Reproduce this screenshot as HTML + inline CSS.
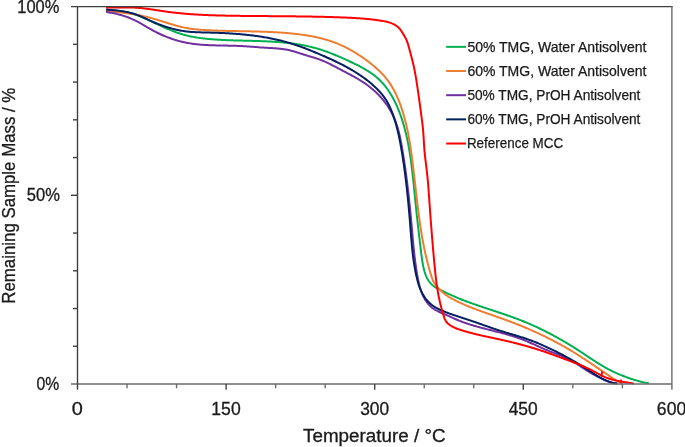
<!DOCTYPE html>
<html><head><meta charset="utf-8"><style>
html,body{margin:0;padding:0;background:#fff;}
body{width:685px;height:447px;overflow:hidden;}
svg{display:block;font-family:"Liberation Sans", sans-serif;will-change:transform;}
</style></head><body>
<svg width="685" height="447" viewBox="0 0 685 447">
<rect width="685" height="447" fill="#fff"/>
<path d="M107.00 9.00 L107.00 9.90 L107.61 9.95 L108.22 10.00 L108.82 10.04 L109.43 10.09 L110.05 10.14 L110.66 10.19 L111.27 10.25 L111.89 10.30 L112.50 10.36 L113.11 10.41 L113.73 10.47 L114.35 10.53 L114.96 10.60 L115.58 10.66 L116.20 10.73 L116.81 10.80 L117.43 10.87 L118.05 10.94 L118.67 11.02 L119.28 11.10 L119.90 11.18 L120.52 11.26 L121.13 11.35 L121.75 11.44 L122.37 11.54 L122.98 11.63 L123.59 11.73 L124.21 11.84 L124.82 11.94 L125.43 12.06 L126.04 12.17 L126.65 12.29 L127.26 12.41 L127.87 12.54 L128.47 12.67 L129.07 12.81 L129.68 12.95 L130.28 13.09 L130.88 13.24 L131.48 13.40 L132.07 13.56 L132.67 13.72 L133.26 13.89 L133.85 14.07 L134.44 14.25 L135.02 14.43 L135.61 14.63 L136.19 14.82 L136.77 15.02 L137.34 15.23 L137.92 15.44 L138.49 15.66 L139.07 15.88 L139.64 16.10 L140.21 16.33 L140.77 16.56 L141.34 16.80 L141.91 17.04 L142.47 17.28 L143.03 17.53 L143.59 17.77 L144.16 18.02 L144.72 18.28 L145.28 18.53 L145.84 18.79 L146.40 19.05 L146.95 19.31 L147.51 19.57 L148.07 19.83 L148.63 20.10 L149.19 20.36 L149.75 20.63 L150.30 20.90 L150.86 21.16 L151.42 21.43 L151.98 21.70 L152.54 21.96 L153.10 22.23 L153.66 22.50 L154.22 22.76 L154.78 23.03 L155.35 23.30 L155.91 23.56 L156.47 23.83 L157.03 24.09 L157.59 24.36 L158.16 24.62 L158.72 24.88 L159.29 25.15 L159.85 25.41 L160.42 25.67 L160.98 25.93 L161.55 26.19 L162.11 26.45 L162.68 26.71 L163.25 26.96 L163.82 27.22 L164.38 27.47 L164.95 27.72 L165.52 27.97 L166.09 28.22 L166.66 28.47 L167.23 28.71 L167.81 28.96 L168.38 29.20 L168.95 29.44 L169.52 29.68 L170.10 29.91 L170.67 30.15 L171.25 30.38 L171.82 30.61 L172.40 30.84 L172.98 31.06 L173.55 31.29 L174.13 31.51 L174.71 31.72 L175.29 31.94 L175.87 32.15 L176.45 32.36 L177.04 32.57 L177.62 32.77 L178.20 32.97 L178.79 33.17 L179.37 33.37 L179.96 33.56 L180.54 33.75 L181.13 33.94 L181.72 34.12 L182.31 34.30 L182.90 34.47 L183.49 34.64 L184.08 34.81 L184.67 34.98 L185.26 35.14 L185.86 35.29 L186.45 35.45 L187.05 35.60 L187.65 35.74 L188.24 35.88 L188.84 36.02 L189.44 36.16 L190.04 36.29 L190.64 36.42 L191.24 36.54 L191.84 36.66 L192.45 36.78 L193.05 36.89 L193.65 37.00 L194.26 37.11 L194.86 37.22 L195.47 37.32 L196.08 37.42 L196.68 37.52 L197.29 37.61 L197.90 37.70 L198.51 37.79 L199.12 37.88 L199.73 37.97 L200.34 38.05 L200.95 38.13 L201.56 38.20 L202.17 38.28 L202.78 38.35 L203.39 38.43 L204.00 38.49 L204.62 38.56 L205.23 38.63 L205.84 38.69 L206.46 38.76 L207.07 38.82 L207.68 38.88 L208.30 38.93 L208.91 38.99 L209.53 39.05 L210.14 39.10 L210.76 39.15 L211.37 39.20 L211.99 39.25 L212.60 39.30 L213.22 39.35 L213.84 39.40 L214.45 39.44 L215.07 39.49 L215.68 39.53 L216.30 39.57 L216.92 39.61 L217.53 39.65 L218.15 39.69 L218.77 39.73 L219.39 39.76 L220.00 39.80 L220.62 39.83 L221.24 39.87 L221.86 39.90 L222.47 39.93 L223.09 39.96 L223.71 39.99 L224.33 40.02 L224.95 40.05 L225.57 40.08 L226.18 40.11 L226.80 40.13 L227.42 40.16 L228.04 40.18 L228.66 40.21 L229.28 40.23 L229.90 40.26 L230.52 40.28 L231.14 40.30 L231.76 40.32 L232.38 40.34 L233.00 40.36 L233.62 40.38 L234.24 40.40 L234.86 40.42 L235.47 40.44 L236.09 40.46 L236.71 40.48 L237.33 40.49 L237.95 40.51 L238.57 40.53 L239.19 40.54 L239.81 40.56 L240.43 40.58 L241.05 40.59 L241.67 40.61 L242.29 40.62 L242.91 40.64 L243.54 40.66 L244.16 40.67 L244.78 40.69 L245.40 40.70 L246.02 40.72 L246.64 40.73 L247.26 40.75 L247.88 40.76 L248.50 40.78 L249.12 40.79 L249.74 40.81 L250.36 40.83 L250.98 40.84 L251.59 40.86 L252.21 40.87 L252.83 40.89 L253.45 40.91 L254.07 40.92 L254.69 40.94 L255.31 40.96 L255.93 40.98 L256.55 41.00 L257.17 41.01 L257.79 41.03 L258.41 41.05 L259.03 41.07 L259.65 41.09 L260.27 41.12 L260.88 41.14 L261.50 41.16 L262.12 41.18 L262.74 41.21 L263.36 41.23 L263.98 41.26 L264.59 41.28 L265.21 41.31 L265.83 41.33 L266.45 41.36 L267.07 41.39 L267.68 41.42 L268.30 41.45 L268.92 41.48 L269.53 41.51 L270.15 41.54 L270.77 41.58 L271.38 41.61 L272.00 41.65 L272.62 41.68 L273.23 41.72 L273.85 41.76 L274.46 41.80 L275.08 41.84 L275.70 41.88 L276.31 41.92 L276.93 41.97 L277.54 42.01 L278.15 42.06 L278.77 42.10 L279.38 42.15 L280.00 42.20 L280.61 42.25 L281.22 42.30 L281.84 42.36 L282.45 42.41 L283.06 42.47 L283.68 42.53 L284.29 42.59 L284.90 42.65 L285.51 42.71 L286.12 42.77 L286.74 42.84 L287.35 42.90 L287.96 42.97 L288.57 43.04 L289.18 43.11 L289.79 43.18 L290.40 43.26 L291.01 43.33 L291.62 43.41 L292.23 43.49 L292.83 43.57 L293.44 43.66 L294.05 43.74 L294.66 43.83 L295.27 43.91 L295.87 44.00 L296.48 44.10 L297.09 44.19 L297.69 44.29 L298.30 44.38 L298.91 44.48 L299.51 44.58 L300.12 44.69 L300.72 44.79 L301.32 44.90 L301.93 45.01 L302.53 45.12 L303.14 45.24 L303.74 45.35 L304.34 45.47 L304.94 45.59 L305.55 45.71 L306.15 45.84 L306.75 45.97 L307.35 46.09 L307.95 46.23 L308.55 46.36 L309.15 46.50 L309.75 46.63 L310.35 46.78 L310.95 46.92 L311.54 47.07 L312.14 47.21 L312.74 47.36 L313.34 47.52 L313.93 47.67 L314.53 47.83 L315.12 47.99 L315.72 48.16 L316.31 48.32 L316.91 48.49 L317.50 48.66 L318.10 48.84 L318.69 49.01 L319.28 49.19 L319.87 49.38 L320.47 49.56 L321.06 49.75 L321.65 49.94 L322.24 50.13 L322.83 50.33 L323.42 50.53 L324.01 50.73 L324.60 50.93 L325.18 51.14 L325.77 51.35 L326.36 51.56 L326.94 51.77 L327.53 51.99 L328.11 52.21 L328.70 52.43 L329.28 52.65 L329.87 52.88 L330.45 53.10 L331.03 53.33 L331.61 53.56 L332.19 53.79 L332.77 54.02 L333.35 54.26 L333.93 54.49 L334.51 54.73 L335.08 54.97 L335.66 55.21 L336.23 55.45 L336.81 55.70 L337.38 55.94 L337.95 56.19 L338.53 56.43 L339.10 56.68 L339.67 56.93 L340.24 57.18 L340.81 57.42 L341.37 57.68 L341.94 57.93 L342.51 58.18 L343.07 58.43 L343.63 58.68 L344.20 58.94 L344.76 59.19 L345.32 59.44 L345.88 59.70 L346.44 59.95 L347.00 60.20 L347.55 60.46 L348.11 60.71 L348.66 60.96 L349.22 61.22 L349.77 61.47 L350.32 61.73 L350.87 61.99 L351.42 62.24 L351.97 62.50 L352.52 62.76 L353.07 63.02 L353.62 63.28 L354.17 63.54 L354.72 63.81 L355.27 64.08 L355.82 64.34 L356.36 64.61 L356.91 64.89 L357.46 65.16 L358.01 65.44 L358.56 65.72 L359.11 66.00 L359.65 66.29 L360.20 66.58 L360.75 66.87 L361.29 67.16 L361.84 67.45 L362.38 67.75 L362.93 68.05 L363.47 68.36 L364.01 68.66 L364.55 68.97 L365.09 69.29 L365.62 69.60 L366.16 69.92 L366.69 70.25 L367.22 70.57 L367.75 70.90 L368.28 71.23 L368.80 71.57 L369.33 71.91 L369.85 72.25 L370.37 72.60 L370.88 72.95 L371.39 73.30 L371.90 73.66 L372.41 74.02 L372.91 74.38 L373.41 74.75 L373.91 75.13 L374.40 75.50 L374.89 75.88 L375.37 76.27 L375.86 76.66 L376.33 77.05 L376.81 77.45 L377.28 77.85 L377.74 78.25 L378.20 78.66 L378.66 79.08 L379.11 79.50 L379.56 79.92 L380.00 80.35 L380.44 80.78 L380.87 81.22 L381.30 81.66 L381.72 82.11 L382.14 82.56 L382.55 83.01 L382.96 83.47 L383.37 83.93 L383.77 84.40 L384.16 84.87 L384.56 85.34 L384.94 85.82 L385.33 86.30 L385.70 86.79 L386.08 87.27 L386.45 87.76 L386.82 88.26 L387.18 88.76 L387.54 89.26 L387.89 89.76 L388.24 90.27 L388.59 90.78 L388.93 91.29 L389.27 91.81 L389.60 92.33 L389.93 92.85 L390.26 93.37 L390.58 93.90 L390.90 94.43 L391.22 94.96 L391.53 95.49 L391.84 96.03 L392.15 96.56 L392.45 97.10 L392.75 97.64 L393.04 98.19 L393.34 98.73 L393.62 99.28 L393.91 99.83 L394.19 100.38 L394.47 100.93 L394.75 101.48 L395.02 102.04 L395.29 102.59 L395.56 103.15 L395.83 103.71 L396.09 104.27 L396.35 104.83 L396.60 105.39 L396.85 105.96 L397.10 106.52 L397.35 107.09 L397.60 107.66 L397.84 108.23 L398.08 108.80 L398.31 109.37 L398.54 109.94 L398.77 110.52 L399.00 111.09 L399.23 111.67 L399.45 112.25 L399.67 112.83 L399.89 113.41 L400.10 113.99 L400.32 114.57 L400.52 115.15 L400.73 115.73 L400.94 116.32 L401.14 116.90 L401.34 117.49 L401.54 118.07 L401.73 118.66 L401.93 119.25 L402.12 119.84 L402.31 120.43 L402.49 121.02 L402.68 121.61 L402.86 122.20 L403.04 122.79 L403.22 123.39 L403.39 123.98 L403.56 124.58 L403.74 125.17 L403.90 125.77 L404.07 126.36 L404.24 126.96 L404.40 127.55 L404.56 128.15 L404.72 128.75 L404.88 129.35 L405.03 129.95 L405.19 130.54 L405.34 131.14 L405.49 131.74 L405.64 132.34 L405.79 132.94 L405.93 133.54 L406.07 134.14 L406.22 134.74 L406.35 135.35 L406.49 135.95 L406.63 136.55 L406.76 137.15 L406.90 137.75 L407.03 138.36 L407.16 138.96 L407.29 139.56 L407.41 140.17 L407.54 140.77 L407.66 141.37 L407.79 141.98 L407.91 142.58 L408.03 143.19 L408.14 143.79 L408.26 144.40 L408.38 145.00 L408.49 145.61 L408.60 146.22 L408.71 146.82 L408.82 147.43 L408.93 148.04 L409.04 148.64 L409.14 149.25 L409.25 149.86 L409.35 150.47 L409.45 151.07 L409.55 151.68 L409.65 152.29 L409.75 152.90 L409.85 153.51 L409.95 154.12 L410.04 154.73 L410.14 155.34 L410.23 155.95 L410.32 156.56 L410.41 157.17 L410.50 157.78 L410.59 158.39 L410.68 159.00 L410.76 159.61 L410.85 160.22 L410.93 160.83 L411.02 161.44 L411.10 162.05 L411.18 162.67 L411.26 163.28 L411.34 163.89 L411.42 164.50 L411.50 165.11 L411.58 165.73 L411.66 166.34 L411.74 166.95 L411.81 167.56 L411.89 168.18 L411.96 168.79 L412.03 169.40 L412.11 170.02 L412.18 170.63 L412.25 171.24 L412.32 171.86 L412.39 172.47 L412.46 173.08 L412.53 173.70 L412.60 174.31 L412.67 174.93 L412.74 175.54 L412.80 176.16 L412.87 176.77 L412.94 177.38 L413.00 178.00 L413.07 178.61 L413.13 179.23 L413.20 179.84 L413.26 180.46 L413.33 181.07 L413.39 181.69 L413.45 182.30 L413.52 182.92 L413.58 183.53 L413.64 184.15 L413.70 184.76 L413.77 185.38 L413.83 185.99 L413.89 186.61 L413.95 187.23 L414.01 187.84 L414.07 188.46 L414.13 189.07 L414.20 189.69 L414.26 190.30 L414.32 190.92 L414.38 191.53 L414.44 192.15 L414.50 192.77 L414.56 193.38 L414.62 194.00 L414.68 194.61 L414.74 195.23 L414.80 195.84 L414.87 196.46 L414.93 197.07 L414.99 197.69 L415.05 198.30 L415.11 198.92 L415.17 199.54 L415.24 200.15 L415.30 200.77 L415.36 201.38 L415.42 202.00 L415.49 202.61 L415.55 203.23 L415.61 203.84 L415.68 204.46 L415.74 205.07 L415.81 205.69 L415.87 206.30 L415.94 206.92 L416.00 207.53 L416.06 208.15 L416.13 208.76 L416.20 209.38 L416.26 209.99 L416.33 210.60 L416.39 211.22 L416.46 211.83 L416.52 212.45 L416.59 213.06 L416.66 213.68 L416.72 214.29 L416.79 214.90 L416.86 215.52 L416.93 216.13 L416.99 216.75 L417.06 217.36 L417.13 217.98 L417.20 218.59 L417.27 219.20 L417.33 219.82 L417.40 220.43 L417.47 221.04 L417.54 221.66 L417.61 222.27 L417.68 222.89 L417.75 223.50 L417.82 224.11 L417.89 224.73 L417.96 225.34 L418.02 225.95 L418.09 226.57 L418.16 227.18 L418.23 227.79 L418.31 228.40 L418.38 229.02 L418.45 229.63 L418.52 230.24 L418.59 230.86 L418.66 231.47 L418.73 232.08 L418.80 232.69 L418.87 233.31 L418.94 233.92 L419.01 234.53 L419.08 235.14 L419.16 235.76 L419.23 236.37 L419.30 236.98 L419.37 237.59 L419.44 238.21 L419.51 238.82 L419.59 239.43 L419.66 240.04 L419.73 240.65 L419.80 241.26 L419.88 241.88 L419.95 242.49 L420.02 243.10 L420.09 243.71 L420.17 244.32 L420.24 244.93 L420.31 245.55 L420.38 246.16 L420.46 246.77 L420.53 247.38 L420.60 247.99 L420.67 248.60 L420.75 249.21 L420.82 249.82 L420.89 250.43 L420.97 251.04 L421.04 251.65 L421.11 252.26 L421.19 252.88 L421.26 253.49 L421.34 254.10 L421.42 254.71 L421.49 255.32 L421.57 255.93 L421.66 256.54 L421.74 257.15 L421.82 257.76 L421.91 258.37 L422.00 258.98 L422.09 259.60 L422.18 260.21 L422.27 260.82 L422.37 261.43 L422.47 262.04 L422.57 262.66 L422.68 263.27 L422.79 263.88 L422.90 264.50 L423.01 265.11 L423.13 265.72 L423.26 266.34 L423.38 266.95 L423.52 267.56 L423.65 268.18 L423.79 268.79 L423.94 269.40 L424.10 270.00 L424.26 270.61 L424.42 271.21 L424.60 271.81 L424.78 272.40 L424.97 273.00 L425.17 273.59 L425.37 274.17 L425.59 274.75 L425.81 275.33 L426.05 275.90 L426.29 276.46 L426.54 277.02 L426.81 277.58 L427.08 278.12 L427.37 278.66 L427.67 279.20 L427.98 279.72 L428.30 280.24 L428.63 280.75 L428.98 281.26 L429.34 281.75 L429.72 282.24 L430.11 282.71 L430.51 283.18 L430.93 283.64 L431.36 284.08 L431.80 284.52 L432.26 284.94 L432.73 285.35 L433.21 285.75 L433.70 286.13 L434.20 286.50 L434.72 286.85 L435.24 287.19 L435.76 287.51 L436.30 287.82 L436.84 288.12 L437.39 288.41 L437.93 288.69 L438.49 288.97 L439.04 289.25 L439.60 289.52 L440.15 289.80 L440.71 290.07 L441.26 290.35 L441.81 290.62 L442.37 290.90 L442.92 291.17 L443.48 291.45 L444.03 291.72 L444.59 291.99 L445.14 292.27 L445.70 292.54 L446.25 292.81 L446.81 293.08 L447.36 293.34 L447.92 293.61 L448.48 293.87 L449.04 294.14 L449.60 294.40 L450.16 294.66 L450.72 294.91 L451.28 295.17 L451.84 295.42 L452.41 295.67 L452.97 295.92 L453.54 296.17 L454.10 296.42 L454.67 296.67 L455.23 296.91 L455.80 297.15 L456.37 297.39 L456.94 297.63 L457.51 297.87 L458.08 298.10 L458.65 298.34 L459.22 298.57 L459.79 298.80 L460.36 299.03 L460.93 299.26 L461.51 299.49 L462.08 299.72 L462.66 299.94 L463.23 300.16 L463.81 300.39 L464.38 300.61 L464.96 300.83 L465.54 301.05 L466.11 301.26 L466.69 301.48 L467.27 301.70 L467.85 301.91 L468.43 302.12 L469.01 302.34 L469.59 302.55 L470.17 302.76 L470.75 302.97 L471.33 303.18 L471.91 303.39 L472.49 303.59 L473.08 303.80 L473.66 304.00 L474.24 304.21 L474.82 304.41 L475.41 304.62 L475.99 304.82 L476.58 305.02 L477.16 305.22 L477.74 305.42 L478.33 305.62 L478.91 305.82 L479.50 306.02 L480.09 306.22 L480.67 306.42 L481.26 306.61 L481.84 306.81 L482.43 307.01 L483.02 307.20 L483.60 307.40 L484.19 307.60 L484.78 307.79 L485.36 307.99 L485.95 308.18 L486.54 308.38 L487.12 308.57 L487.71 308.76 L488.30 308.96 L488.89 309.15 L489.47 309.35 L490.06 309.54 L490.65 309.73 L491.24 309.93 L491.82 310.12 L492.41 310.31 L493.00 310.51 L493.59 310.70 L494.17 310.89 L494.76 311.09 L495.35 311.28 L495.94 311.48 L496.52 311.67 L497.11 311.87 L497.70 312.06 L498.29 312.26 L498.87 312.45 L499.46 312.65 L500.05 312.84 L500.63 313.04 L501.22 313.24 L501.80 313.43 L502.39 313.63 L502.98 313.83 L503.56 314.03 L504.15 314.23 L504.73 314.43 L505.32 314.63 L505.90 314.83 L506.49 315.03 L507.07 315.24 L507.65 315.44 L508.24 315.64 L508.82 315.85 L509.40 316.05 L509.98 316.26 L510.57 316.47 L511.15 316.67 L511.73 316.88 L512.31 317.09 L512.89 317.30 L513.47 317.51 L514.05 317.73 L514.63 317.94 L515.21 318.15 L515.79 318.37 L516.37 318.59 L516.95 318.80 L517.52 319.02 L518.10 319.24 L518.68 319.46 L519.25 319.69 L519.83 319.91 L520.40 320.14 L520.98 320.36 L521.55 320.59 L522.12 320.82 L522.70 321.05 L523.27 321.28 L523.84 321.51 L524.41 321.74 L524.98 321.98 L525.55 322.21 L526.12 322.45 L526.69 322.69 L527.26 322.93 L527.83 323.17 L528.39 323.41 L528.96 323.66 L529.53 323.90 L530.09 324.15 L530.66 324.39 L531.22 324.64 L531.79 324.89 L532.35 325.14 L532.92 325.39 L533.48 325.64 L534.04 325.90 L534.60 326.15 L535.16 326.41 L535.73 326.67 L536.29 326.92 L536.85 327.18 L537.41 327.44 L537.96 327.71 L538.52 327.97 L539.08 328.23 L539.64 328.50 L540.19 328.76 L540.75 329.03 L541.30 329.30 L541.86 329.57 L542.41 329.84 L542.97 330.11 L543.52 330.39 L544.07 330.66 L544.63 330.93 L545.18 331.21 L545.73 331.49 L546.28 331.77 L546.83 332.05 L547.38 332.33 L547.93 332.61 L548.48 332.89 L549.03 333.17 L549.57 333.46 L550.12 333.74 L550.67 334.03 L551.21 334.32 L551.76 334.61 L552.31 334.90 L552.85 335.19 L553.39 335.48 L553.94 335.77 L554.48 336.07 L555.02 336.36 L555.56 336.66 L556.10 336.96 L556.65 337.25 L557.19 337.55 L557.73 337.85 L558.26 338.15 L558.80 338.46 L559.34 338.76 L559.88 339.06 L560.42 339.37 L560.95 339.67 L561.49 339.98 L562.02 340.29 L562.56 340.60 L563.09 340.91 L563.63 341.22 L564.16 341.53 L564.69 341.84 L565.22 342.16 L565.76 342.47 L566.29 342.79 L566.82 343.10 L567.35 343.42 L567.88 343.74 L568.41 344.06 L568.93 344.38 L569.46 344.70 L569.99 345.02 L570.52 345.35 L571.04 345.67 L571.57 345.99 L572.09 346.32 L572.62 346.65 L573.14 346.97 L573.66 347.30 L574.19 347.63 L574.71 347.96 L575.23 348.29 L575.75 348.62 L576.27 348.96 L576.79 349.29 L577.31 349.62 L577.83 349.96 L578.35 350.30 L578.87 350.63 L579.39 350.97 L579.90 351.31 L580.42 351.65 L580.94 351.99 L581.45 352.33 L581.97 352.67 L582.48 353.01 L583.00 353.35 L583.51 353.69 L584.03 354.03 L584.54 354.38 L585.06 354.72 L585.57 355.06 L586.09 355.40 L586.60 355.74 L587.11 356.09 L587.63 356.43 L588.14 356.77 L588.66 357.11 L589.17 357.45 L589.69 357.79 L590.20 358.13 L590.72 358.47 L591.24 358.81 L591.75 359.15 L592.27 359.49 L592.79 359.83 L593.30 360.16 L593.82 360.50 L594.34 360.83 L594.86 361.17 L595.38 361.50 L595.90 361.83 L596.42 362.16 L596.94 362.49 L597.46 362.82 L597.99 363.15 L598.51 363.48 L599.04 363.80 L599.56 364.12 L600.09 364.44 L600.62 364.76 L601.14 365.08 L601.67 365.40 L602.20 365.71 L602.74 366.03 L603.27 366.34 L603.80 366.65 L604.34 366.96 L604.87 367.26 L605.41 367.56 L605.95 367.87 L606.49 368.17 L607.03 368.46 L607.57 368.76 L608.12 369.05 L608.66 369.34 L609.21 369.63 L609.76 369.91 L610.31 370.19 L610.86 370.47 L611.41 370.75 L611.97 371.03 L612.53 371.30 L613.08 371.57 L613.64 371.84 L614.20 372.10 L614.77 372.36 L615.33 372.62 L615.89 372.88 L616.46 373.13 L617.02 373.39 L617.59 373.64 L618.16 373.88 L618.73 374.13 L619.30 374.37 L619.87 374.61 L620.45 374.85 L621.02 375.08 L621.60 375.32 L622.17 375.55 L622.75 375.77 L623.33 376.00 L623.90 376.22 L624.48 376.45 L625.06 376.67 L625.64 376.88 L626.22 377.10 L626.80 377.31 L627.38 377.52 L627.97 377.73 L628.55 377.93 L629.13 378.14 L629.71 378.34 L630.30 378.54 L630.88 378.74 L631.47 378.93 L632.05 379.12 L632.64 379.31 L633.22 379.50 L633.81 379.68 L634.40 379.87 L634.99 380.04 L635.57 380.22 L636.16 380.39 L636.76 380.56 L637.35 380.73 L637.94 380.90 L638.53 381.06 L639.13 381.22 L639.72 381.37 L640.32 381.53 L640.92 381.67 L641.52 381.82 L642.12 381.96 L642.72 382.10 L643.32 382.24 L643.92 382.37 L644.53 382.50 L645.14 382.62 L645.74 382.74 L646.35 382.86 L646.96 382.98 L647.58 383.08 L648.19 383.19 L648.80 383.29 L648.80 383.29" fill="none" stroke="#00B050" stroke-width="2.0" stroke-linejoin="round" stroke-linecap="butt"/>
<path d="M107.00 10.00 L106.99 11.03 L107.59 11.09 L108.19 11.15 L108.79 11.20 L109.39 11.26 L109.99 11.32 L110.59 11.38 L111.19 11.44 L111.79 11.50 L112.39 11.56 L112.99 11.62 L113.59 11.68 L114.19 11.74 L114.79 11.81 L115.39 11.87 L115.98 11.93 L116.58 12.00 L117.18 12.06 L117.78 12.13 L118.38 12.20 L118.98 12.27 L119.57 12.34 L120.17 12.41 L120.77 12.48 L121.37 12.55 L121.96 12.62 L122.56 12.69 L123.16 12.77 L123.76 12.84 L124.35 12.92 L124.95 13.00 L125.54 13.08 L126.14 13.16 L126.74 13.24 L127.33 13.32 L127.93 13.41 L128.52 13.49 L129.12 13.58 L129.71 13.67 L130.30 13.76 L130.90 13.85 L131.49 13.94 L132.08 14.03 L132.68 14.13 L133.27 14.23 L133.86 14.33 L134.45 14.42 L135.05 14.53 L135.64 14.63 L136.23 14.73 L136.82 14.84 L137.41 14.95 L138.00 15.06 L138.59 15.17 L139.18 15.28 L139.77 15.40 L140.36 15.52 L140.95 15.64 L141.53 15.76 L142.12 15.88 L142.71 16.01 L143.29 16.13 L143.88 16.26 L144.47 16.39 L145.05 16.53 L145.64 16.66 L146.22 16.80 L146.81 16.94 L147.39 17.08 L147.97 17.23 L148.56 17.37 L149.14 17.52 L149.72 17.67 L150.30 17.82 L150.88 17.98 L151.46 18.14 L152.04 18.30 L152.62 18.46 L153.20 18.62 L153.78 18.79 L154.36 18.96 L154.94 19.13 L155.52 19.30 L156.09 19.47 L156.67 19.64 L157.25 19.82 L157.83 19.99 L158.40 20.17 L158.98 20.35 L159.56 20.53 L160.13 20.70 L160.71 20.88 L161.28 21.06 L161.86 21.25 L162.43 21.43 L163.01 21.61 L163.59 21.79 L164.16 21.97 L164.74 22.15 L165.31 22.34 L165.89 22.52 L166.46 22.70 L167.04 22.88 L167.62 23.06 L168.19 23.24 L168.77 23.42 L169.34 23.60 L169.92 23.77 L170.50 23.95 L171.07 24.12 L171.65 24.30 L172.23 24.47 L172.81 24.64 L173.38 24.81 L173.96 24.98 L174.54 25.14 L175.12 25.31 L175.70 25.47 L176.28 25.63 L176.86 25.79 L177.44 25.95 L178.02 26.10 L178.60 26.25 L179.18 26.40 L179.77 26.55 L180.35 26.69 L180.93 26.84 L181.52 26.97 L182.10 27.11 L183.27 27.37 L184.45 27.62 L185.62 27.86 L186.80 28.08 L187.98 28.28 L189.17 28.48 L189.76 28.57 L190.35 28.66 L190.95 28.74 L191.54 28.82 L192.14 28.90 L192.73 28.98 L193.33 29.05 L193.93 29.12 L194.53 29.19 L195.12 29.26 L195.72 29.32 L196.32 29.38 L196.92 29.44 L197.52 29.50 L198.12 29.55 L198.72 29.61 L199.32 29.66 L199.92 29.70 L200.52 29.75 L201.12 29.80 L201.72 29.84 L202.32 29.88 L202.92 29.92 L203.53 29.96 L204.13 30.00 L204.73 30.03 L205.33 30.07 L205.93 30.10 L206.54 30.14 L207.14 30.17 L207.74 30.20 L208.34 30.23 L208.95 30.26 L209.55 30.29 L210.15 30.32 L210.75 30.35 L211.35 30.38 L211.96 30.40 L212.56 30.43 L213.16 30.45 L213.76 30.48 L214.36 30.50 L214.97 30.53 L215.57 30.55 L216.17 30.57 L216.77 30.59 L217.37 30.62 L217.98 30.64 L218.58 30.66 L219.18 30.68 L219.78 30.70 L220.38 30.72 L220.99 30.73 L221.59 30.75 L222.19 30.77 L222.79 30.79 L223.39 30.80 L224.00 30.82 L224.60 30.84 L225.20 30.85 L225.80 30.87 L226.40 30.88 L227.00 30.90 L227.61 30.91 L228.21 30.93 L228.81 30.94 L229.41 30.95 L230.01 30.97 L230.61 30.98 L231.22 30.99 L231.82 31.01 L232.42 31.02 L233.02 31.03 L233.62 31.04 L234.22 31.06 L234.83 31.07 L235.43 31.08 L236.03 31.09 L236.63 31.10 L237.23 31.12 L237.83 31.13 L238.43 31.14 L239.04 31.15 L239.64 31.16 L240.24 31.17 L240.84 31.18 L241.44 31.19 L242.04 31.21 L242.64 31.22 L243.25 31.23 L243.85 31.24 L244.45 31.25 L245.05 31.26 L245.65 31.28 L246.25 31.29 L246.85 31.30 L247.45 31.31 L248.06 31.32 L248.66 31.34 L249.26 31.35 L249.86 31.36 L250.46 31.37 L251.06 31.39 L251.66 31.40 L252.26 31.41 L252.86 31.43 L253.46 31.44 L254.07 31.46 L254.67 31.47 L255.27 31.49 L255.87 31.50 L256.47 31.52 L257.07 31.53 L257.67 31.55 L258.27 31.57 L258.87 31.58 L259.47 31.60 L260.07 31.62 L260.68 31.64 L261.28 31.66 L261.88 31.67 L262.48 31.69 L263.08 31.71 L263.68 31.74 L264.28 31.76 L264.88 31.78 L265.48 31.80 L266.08 31.82 L266.68 31.85 L267.28 31.87 L267.88 31.89 L268.48 31.92 L269.09 31.95 L269.69 31.97 L270.29 32.00 L270.89 32.03 L271.49 32.05 L272.09 32.08 L272.69 32.11 L273.29 32.14 L273.89 32.17 L274.49 32.21 L275.09 32.24 L275.69 32.27 L276.29 32.31 L276.89 32.34 L277.49 32.38 L278.09 32.41 L278.69 32.45 L279.29 32.49 L279.89 32.53 L280.49 32.57 L281.09 32.61 L281.69 32.65 L282.29 32.69 L282.89 32.74 L283.49 32.78 L284.09 32.83 L284.69 32.87 L285.29 32.92 L285.89 32.97 L286.49 33.02 L287.09 33.07 L287.69 33.12 L288.29 33.17 L288.89 33.22 L289.49 33.28 L290.09 33.33 L290.69 33.39 L291.29 33.45 L291.89 33.50 L292.49 33.56 L293.09 33.63 L293.69 33.69 L294.29 33.75 L294.89 33.82 L295.49 33.88 L296.09 33.95 L296.69 34.02 L297.29 34.09 L297.89 34.16 L298.49 34.23 L299.08 34.31 L299.68 34.38 L300.28 34.46 L300.88 34.54 L301.48 34.62 L302.07 34.70 L302.67 34.79 L303.27 34.87 L303.86 34.96 L304.46 35.05 L305.05 35.14 L305.65 35.23 L306.25 35.32 L306.84 35.42 L307.43 35.51 L308.03 35.61 L308.62 35.71 L309.22 35.82 L309.81 35.92 L310.40 36.03 L310.99 36.14 L311.58 36.25 L312.17 36.36 L312.76 36.47 L313.35 36.59 L313.94 36.71 L314.53 36.83 L315.12 36.95 L315.71 37.08 L316.30 37.20 L316.88 37.33 L317.47 37.46 L318.06 37.60 L318.64 37.73 L319.22 37.87 L319.81 38.01 L320.39 38.16 L320.97 38.30 L321.56 38.45 L322.14 38.60 L322.72 38.75 L323.30 38.91 L323.88 39.07 L324.45 39.23 L325.03 39.39 L325.61 39.55 L326.18 39.72 L326.76 39.89 L327.33 40.07 L327.91 40.24 L328.48 40.42 L329.05 40.60 L329.62 40.79 L330.19 40.97 L330.76 41.16 L331.33 41.35 L331.90 41.55 L332.47 41.75 L333.03 41.95 L333.60 42.15 L334.16 42.36 L334.72 42.57 L335.29 42.78 L335.85 43.00 L336.41 43.22 L336.97 43.44 L337.53 43.67 L338.08 43.90 L338.64 44.13 L339.19 44.36 L339.75 44.60 L340.30 44.84 L340.85 45.09 L341.40 45.33 L341.95 45.58 L342.50 45.84 L343.05 46.10 L343.59 46.35 L344.14 46.62 L344.68 46.88 L345.22 47.15 L345.77 47.42 L346.31 47.70 L346.84 47.97 L347.38 48.25 L347.92 48.54 L348.45 48.82 L348.99 49.11 L349.52 49.40 L350.05 49.69 L350.58 49.98 L351.10 50.28 L351.63 50.58 L352.16 50.88 L352.68 51.18 L353.20 51.49 L353.72 51.79 L354.24 52.10 L354.76 52.41 L355.27 52.73 L355.79 53.04 L356.30 53.36 L356.81 53.68 L357.32 54.00 L357.83 54.32 L358.33 54.64 L358.84 54.97 L359.84 55.62 L360.84 56.28 L361.83 56.95 L362.81 57.62 L363.79 58.30 L364.76 58.99 L365.73 59.68 L366.70 60.38 L367.66 61.09 L368.62 61.82 L369.10 62.18 L369.58 62.54 L370.05 62.91 L370.53 63.28 L371.00 63.66 L371.47 64.03 L371.94 64.41 L372.41 64.79 L372.88 65.17 L373.35 65.56 L373.81 65.94 L374.27 66.33 L374.73 66.73 L375.19 67.12 L375.65 67.52 L376.10 67.92 L376.55 68.32 L377.00 68.73 L377.45 69.13 L377.89 69.54 L378.33 69.96 L378.77 70.37 L379.21 70.79 L379.64 71.21 L380.07 71.64 L380.50 72.06 L380.92 72.49 L381.35 72.92 L381.77 73.36 L382.18 73.79 L382.59 74.23 L383.00 74.68 L383.41 75.12 L383.81 75.57 L384.21 76.02 L384.60 76.47 L384.99 76.93 L385.38 77.39 L385.76 77.85 L386.14 78.32 L386.52 78.79 L386.89 79.26 L387.26 79.73 L387.98 80.69 L388.68 81.66 L389.37 82.64 L390.04 83.64 L390.70 84.64 L391.34 85.65 L391.96 86.68 L392.57 87.71 L393.17 88.75 L393.46 89.28 L393.75 89.80 L394.04 90.33 L394.32 90.86 L394.59 91.39 L394.87 91.93 L395.14 92.47 L395.41 93.01 L395.67 93.55 L395.93 94.09 L396.19 94.63 L396.45 95.18 L396.70 95.73 L396.95 96.27 L397.19 96.83 L397.44 97.38 L397.68 97.93 L397.91 98.49 L398.15 99.04 L398.38 99.60 L398.61 100.16 L398.83 100.72 L399.05 101.28 L399.27 101.85 L399.49 102.41 L399.71 102.98 L399.92 103.54 L400.13 104.11 L400.33 104.68 L400.54 105.25 L400.74 105.82 L400.94 106.39 L401.14 106.96 L401.33 107.53 L401.52 108.11 L401.71 108.68 L401.90 109.25 L402.09 109.83 L402.27 110.40 L402.45 110.98 L402.63 111.56 L402.81 112.13 L402.99 112.71 L403.16 113.29 L403.33 113.86 L403.50 114.44 L403.67 115.02 L403.84 115.60 L404.00 116.18 L404.16 116.75 L404.33 117.33 L404.49 117.91 L404.80 119.07 L405.11 120.23 L405.41 121.39 L405.70 122.55 L405.99 123.71 L406.26 124.87 L406.54 126.04 L406.80 127.20 L407.07 128.37 L407.32 129.54 L407.57 130.71 L407.81 131.89 L408.04 133.07 L408.16 133.66 L408.27 134.25 L408.39 134.84 L408.50 135.43 L408.61 136.02 L408.72 136.61 L408.82 137.20 L408.93 137.79 L409.04 138.38 L409.14 138.98 L409.24 139.57 L409.34 140.16 L409.44 140.76 L409.54 141.35 L409.64 141.95 L409.74 142.54 L409.84 143.13 L409.93 143.73 L410.03 144.32 L410.12 144.92 L410.21 145.52 L410.31 146.11 L410.40 146.71 L410.49 147.30 L410.58 147.90 L410.67 148.50 L410.75 149.09 L410.84 149.69 L410.93 150.28 L411.02 150.88 L411.10 151.48 L411.19 152.07 L411.27 152.67 L411.35 153.27 L411.44 153.86 L411.52 154.46 L411.60 155.06 L411.68 155.65 L411.77 156.25 L411.85 156.85 L411.93 157.44 L412.01 158.04 L412.09 158.64 L412.16 159.24 L412.24 159.83 L412.32 160.43 L412.40 161.03 L412.47 161.62 L412.55 162.22 L412.63 162.82 L412.70 163.42 L412.78 164.01 L412.85 164.61 L412.93 165.21 L413.00 165.81 L413.07 166.40 L413.15 167.00 L413.22 167.60 L413.29 168.19 L413.37 168.79 L413.44 169.39 L413.51 169.99 L413.58 170.58 L413.65 171.18 L413.72 171.78 L413.79 172.38 L413.86 172.98 L413.93 173.57 L414.00 174.17 L414.07 174.77 L414.14 175.37 L414.21 175.96 L414.28 176.56 L414.35 177.16 L414.42 177.76 L414.49 178.35 L414.56 178.95 L414.63 179.55 L414.69 180.15 L414.76 180.74 L414.83 181.34 L414.90 181.94 L414.97 182.54 L415.03 183.14 L415.10 183.73 L415.17 184.33 L415.24 184.93 L415.30 185.53 L415.37 186.12 L415.44 186.72 L415.51 187.32 L415.57 187.92 L415.64 188.51 L415.71 189.11 L415.77 189.71 L415.84 190.31 L415.91 190.90 L415.98 191.50 L416.05 192.10 L416.11 192.70 L416.18 193.29 L416.25 193.89 L416.32 194.49 L416.39 195.09 L416.45 195.68 L416.52 196.28 L416.59 196.88 L416.66 197.48 L416.73 198.07 L416.80 198.67 L416.87 199.27 L416.94 199.86 L417.01 200.46 L417.08 201.06 L417.15 201.66 L417.22 202.25 L417.29 202.85 L417.36 203.45 L417.43 204.04 L417.50 204.64 L417.57 205.24 L417.65 205.83 L417.72 206.43 L417.79 207.03 L417.87 207.62 L417.94 208.22 L418.01 208.82 L418.09 209.41 L418.16 210.01 L418.24 210.61 L418.31 211.20 L418.39 211.80 L418.46 212.39 L418.54 212.99 L418.62 213.59 L418.70 214.18 L418.77 214.78 L418.85 215.37 L418.93 215.97 L419.01 216.57 L419.09 217.16 L419.17 217.76 L419.25 218.35 L419.33 218.95 L419.41 219.54 L419.50 220.14 L419.58 220.74 L419.66 221.33 L419.75 221.93 L419.83 222.52 L419.92 223.12 L420.00 223.71 L420.09 224.31 L420.18 224.90 L420.27 225.50 L420.36 226.09 L420.44 226.69 L420.53 227.28 L420.63 227.87 L420.72 228.47 L420.81 229.06 L420.90 229.66 L420.99 230.25 L421.09 230.84 L421.18 231.44 L421.28 232.03 L421.38 232.63 L421.47 233.22 L421.57 233.81 L421.67 234.41 L421.77 235.00 L421.87 235.59 L421.97 236.19 L422.07 236.78 L422.18 237.37 L422.28 237.96 L422.38 238.56 L422.49 239.15 L422.60 239.74 L422.70 240.33 L422.81 240.92 L422.92 241.51 L423.03 242.11 L423.14 242.70 L423.25 243.29 L423.37 243.88 L423.48 244.47 L423.60 245.06 L423.71 245.65 L423.83 246.24 L423.95 246.83 L424.06 247.42 L424.18 248.01 L424.31 248.60 L424.43 249.19 L424.55 249.78 L424.67 250.37 L424.80 250.95 L424.93 251.54 L425.05 252.13 L425.18 252.72 L425.31 253.31 L425.44 253.89 L425.57 254.48 L425.71 255.07 L425.84 255.65 L425.98 256.24 L426.11 256.83 L426.25 257.41 L426.39 258.00 L426.53 258.58 L426.67 259.17 L426.82 259.75 L426.96 260.34 L427.10 260.92 L427.25 261.51 L427.40 262.09 L427.55 262.67 L427.70 263.26 L427.85 263.84 L428.00 264.42 L428.16 265.00 L428.31 265.59 L428.47 266.17 L428.63 266.75 L428.79 267.33 L428.95 267.91 L429.11 268.49 L429.28 269.07 L429.44 269.65 L429.61 270.23 L429.78 270.81 L429.95 271.39 L430.12 271.97 L430.29 272.55 L430.46 273.12 L430.64 273.70 L430.82 274.28 L430.99 274.86 L431.17 275.43 L431.36 276.01 L431.54 276.58 L431.73 277.15 L431.93 277.72 L432.13 278.29 L432.34 278.85 L432.78 279.97 L433.27 281.06 L433.81 282.12 L434.41 283.15 L435.07 284.14 L435.78 285.11 L436.16 285.58 L436.54 286.05 L436.94 286.50 L437.34 286.96 L437.75 287.41 L438.17 287.85 L438.59 288.29 L439.02 288.73 L439.45 289.16 L439.88 289.59 L440.31 290.02 L440.74 290.44 L441.17 290.86 L441.61 291.28 L442.05 291.69 L442.50 292.10 L442.94 292.50 L443.40 292.90 L444.32 293.66 L445.26 294.40 L446.22 295.11 L447.21 295.80 L448.21 296.45 L448.72 296.77 L449.24 297.08 L449.75 297.39 L450.27 297.70 L450.79 298.00 L451.32 298.29 L451.85 298.58 L452.38 298.87 L452.91 299.15 L453.44 299.44 L453.98 299.71 L454.51 299.99 L455.05 300.26 L455.59 300.54 L456.12 300.81 L456.66 301.07 L457.20 301.34 L457.74 301.60 L458.29 301.86 L458.83 302.12 L459.37 302.38 L459.92 302.63 L460.46 302.89 L461.01 303.14 L461.55 303.39 L462.10 303.64 L462.65 303.88 L463.20 304.13 L463.75 304.37 L464.30 304.61 L464.85 304.85 L465.40 305.08 L465.95 305.32 L466.50 305.55 L467.06 305.79 L467.61 306.02 L468.17 306.25 L468.72 306.48 L469.28 306.70 L469.83 306.93 L470.39 307.15 L470.95 307.38 L471.51 307.60 L472.07 307.82 L472.62 308.04 L473.18 308.26 L473.74 308.47 L474.30 308.69 L474.86 308.90 L475.43 309.12 L475.99 309.33 L476.55 309.54 L477.11 309.75 L477.68 309.96 L478.24 310.17 L478.80 310.38 L479.37 310.59 L479.93 310.79 L480.50 311.00 L481.06 311.21 L481.63 311.41 L482.19 311.61 L482.76 311.82 L483.32 312.02 L483.89 312.22 L484.46 312.42 L485.02 312.62 L485.59 312.82 L486.16 313.03 L486.72 313.23 L487.29 313.42 L487.86 313.62 L488.43 313.82 L489.00 314.02 L489.56 314.22 L490.13 314.42 L490.70 314.62 L491.27 314.81 L491.84 315.01 L492.40 315.21 L492.97 315.41 L493.54 315.61 L494.11 315.80 L494.68 316.00 L495.25 316.20 L495.82 316.40 L496.38 316.60 L496.95 316.79 L497.52 316.99 L498.09 317.19 L498.66 317.39 L499.22 317.59 L499.79 317.79 L500.36 317.99 L500.93 318.19 L501.50 318.39 L502.06 318.60 L502.63 318.80 L503.20 319.00 L503.76 319.20 L504.33 319.41 L504.90 319.61 L505.46 319.82 L506.03 320.02 L506.59 320.23 L507.16 320.44 L507.72 320.65 L508.29 320.86 L508.85 321.07 L509.42 321.28 L509.98 321.49 L510.54 321.70 L511.11 321.91 L511.67 322.13 L512.23 322.34 L512.79 322.56 L513.36 322.77 L513.92 322.99 L514.48 323.21 L515.04 323.43 L515.60 323.65 L516.16 323.87 L516.72 324.09 L517.28 324.31 L517.84 324.53 L518.40 324.75 L518.96 324.98 L519.52 325.20 L520.08 325.43 L520.64 325.65 L521.19 325.88 L521.75 326.11 L522.31 326.34 L522.86 326.57 L523.42 326.80 L523.98 327.03 L524.53 327.26 L525.09 327.49 L525.64 327.73 L526.20 327.96 L526.75 328.19 L527.30 328.43 L527.86 328.67 L528.41 328.90 L528.96 329.14 L529.51 329.38 L530.07 329.62 L530.62 329.86 L531.17 330.11 L531.72 330.35 L532.27 330.59 L532.82 330.84 L533.37 331.08 L533.92 331.33 L534.47 331.57 L535.02 331.82 L535.56 332.07 L536.11 332.32 L536.66 332.57 L537.21 332.82 L537.75 333.07 L538.30 333.32 L538.84 333.58 L539.39 333.83 L539.93 334.09 L540.48 334.34 L541.02 334.60 L541.56 334.86 L542.11 335.12 L542.65 335.38 L543.19 335.64 L543.73 335.90 L544.27 336.16 L544.82 336.42 L545.36 336.69 L545.90 336.95 L546.44 337.22 L546.97 337.49 L547.51 337.75 L548.05 338.02 L548.59 338.29 L549.13 338.56 L549.66 338.83 L550.20 339.10 L550.73 339.38 L551.27 339.65 L551.80 339.93 L552.34 340.20 L552.87 340.48 L553.40 340.76 L553.94 341.04 L554.47 341.31 L555.00 341.59 L555.53 341.88 L556.06 342.16 L556.59 342.44 L557.12 342.73 L557.65 343.01 L558.18 343.30 L558.71 343.58 L559.24 343.87 L559.77 344.16 L560.29 344.45 L560.82 344.74 L561.34 345.03 L561.87 345.32 L562.39 345.62 L562.92 345.91 L563.44 346.21 L563.96 346.50 L564.49 346.80 L565.01 347.10 L565.53 347.40 L566.05 347.70 L566.57 348.00 L567.09 348.30 L567.61 348.61 L568.13 348.91 L568.65 349.22 L569.16 349.52 L569.68 349.83 L570.20 350.14 L570.71 350.45 L571.23 350.76 L571.74 351.07 L572.26 351.38 L572.77 351.69 L573.28 352.01 L573.80 352.32 L574.31 352.64 L574.82 352.95 L575.33 353.27 L575.84 353.59 L576.35 353.91 L576.86 354.23 L577.37 354.55 L577.88 354.87 L578.39 355.19 L578.90 355.51 L579.40 355.83 L579.91 356.16 L580.42 356.48 L580.92 356.81 L581.43 357.13 L581.93 357.46 L582.44 357.79 L582.94 358.12 L583.45 358.44 L583.95 358.77 L584.46 359.10 L584.96 359.43 L585.46 359.76 L585.96 360.10 L586.47 360.43 L586.97 360.76 L587.47 361.09 L587.97 361.42 L588.47 361.76 L588.97 362.09 L589.48 362.43 L589.98 362.76 L590.48 363.10 L590.98 363.43 L591.48 363.77 L591.98 364.10 L592.48 364.44 L592.97 364.78 L593.47 365.11 L593.97 365.45 L594.47 365.79 L594.97 366.12 L595.47 366.46 L595.97 366.80 L596.46 367.14 L596.96 367.48 L597.46 367.81 L597.96 368.15 L598.46 368.49 L598.95 368.83 L599.45 369.17 L599.95 369.51 L600.45 369.85 L600.94 370.19 L601.44 370.53 L601.94 370.86 L602.43 371.20 L602.93 371.54 L603.43 371.88 L603.93 372.22 L604.42 372.56 L604.92 372.90 L605.42 373.24 L605.92 373.57 L606.41 373.91 L606.91 374.25 L607.41 374.59 L607.90 374.93 L608.40 375.26 L608.90 375.60 L609.40 375.94 L609.90 376.28 L610.39 376.61 L610.89 376.95 L611.39 377.28 L611.89 377.62 L612.39 377.96 L612.89 378.29 L613.38 378.62 L613.88 378.96 L614.39 379.29 L614.89 379.61 L615.91 380.25 L616.94 380.86 L617.98 381.45 L618.51 381.73 L619.05 382.00 L619.59 382.27 L620.14 382.52 L620.69 382.75 L621.26 382.98 L621.83 383.19 L622.41 383.39 L622.41 383.39" fill="none" stroke="#ED7D31" stroke-width="2.0" stroke-linejoin="round" stroke-linecap="butt"/>
<path d="M107.00 11.00 L107.00 12.10 L108.17 12.28 L109.34 12.47 L110.51 12.67 L111.69 12.88 L112.86 13.11 L114.02 13.35 L115.19 13.60 L116.36 13.86 L117.52 14.14 L118.68 14.43 L119.84 14.73 L120.99 15.05 L122.14 15.38 L123.28 15.73 L124.42 16.10 L125.55 16.47 L126.68 16.87 L127.80 17.27 L128.91 17.70 L130.02 18.14 L131.12 18.59 L132.21 19.06 L133.30 19.55 L134.37 20.06 L135.44 20.58 L136.50 21.12 L137.55 21.67 L138.59 22.24 L139.62 22.82 L140.66 23.41 L141.68 24.00 L142.71 24.60 L143.73 25.21 L144.76 25.81 L145.78 26.42 L146.80 27.03 L147.83 27.63 L148.86 28.23 L149.89 28.82 L150.93 29.41 L151.98 29.98 L153.03 30.55 L154.08 31.11 L155.14 31.66 L156.21 32.20 L157.28 32.73 L158.35 33.25 L159.43 33.76 L160.52 34.26 L161.61 34.76 L162.70 35.24 L163.80 35.71 L164.90 36.17 L166.00 36.62 L167.11 37.06 L168.23 37.49 L169.35 37.91 L170.47 38.31 L171.59 38.71 L172.72 39.09 L173.86 39.47 L174.99 39.83 L176.13 40.17 L177.28 40.51 L178.42 40.84 L179.57 41.15 L180.73 41.45 L181.88 41.73 L183.04 42.01 L184.20 42.27 L185.37 42.51 L186.53 42.75 L187.70 42.97 L188.87 43.18 L190.05 43.37 L191.22 43.56 L192.40 43.73 L193.58 43.89 L194.76 44.04 L195.94 44.18 L197.13 44.31 L198.31 44.43 L199.50 44.54 L200.69 44.64 L201.88 44.74 L203.06 44.83 L204.25 44.91 L205.45 44.98 L206.64 45.05 L207.83 45.11 L209.02 45.16 L210.21 45.22 L211.40 45.26 L212.59 45.30 L213.78 45.34 L214.97 45.37 L216.17 45.40 L217.36 45.43 L218.55 45.46 L219.74 45.48 L220.93 45.51 L222.12 45.53 L223.31 45.55 L224.50 45.57 L225.70 45.59 L226.89 45.61 L228.08 45.63 L229.27 45.66 L230.46 45.68 L231.65 45.71 L232.84 45.74 L234.03 45.77 L235.22 45.81 L236.40 45.85 L237.59 45.90 L238.78 45.95 L239.97 46.00 L241.16 46.06 L242.34 46.12 L243.53 46.19 L244.72 46.27 L245.91 46.34 L247.09 46.42 L248.28 46.51 L249.47 46.59 L250.65 46.68 L251.84 46.77 L253.03 46.86 L254.21 46.94 L255.40 47.03 L256.59 47.12 L257.78 47.21 L258.96 47.30 L260.15 47.38 L261.34 47.46 L262.53 47.54 L263.72 47.62 L264.91 47.69 L266.10 47.76 L267.29 47.83 L268.48 47.89 L269.67 47.95 L270.87 48.02 L272.06 48.09 L273.25 48.16 L274.44 48.24 L275.63 48.32 L276.82 48.42 L278.00 48.52 L279.19 48.63 L280.37 48.76 L281.56 48.90 L282.74 49.05 L283.91 49.22 L285.09 49.41 L286.26 49.61 L287.42 49.83 L288.58 50.07 L289.74 50.34 L290.89 50.62 L292.04 50.92 L293.19 51.24 L294.33 51.56 L295.47 51.90 L296.61 52.25 L297.75 52.61 L298.89 52.97 L300.02 53.34 L301.16 53.70 L302.30 54.07 L303.44 54.43 L304.57 54.79 L305.72 55.15 L306.86 55.49 L308.00 55.84 L309.15 56.18 L310.29 56.51 L311.43 56.85 L312.57 57.20 L313.71 57.54 L314.85 57.90 L315.98 58.26 L317.11 58.63 L318.24 59.02 L319.36 59.41 L320.47 59.83 L321.58 60.25 L322.68 60.70 L323.78 61.17 L324.86 61.64 L325.95 62.13 L327.03 62.64 L328.10 63.15 L329.17 63.67 L330.24 64.20 L331.30 64.74 L332.36 65.28 L333.42 65.82 L334.48 66.37 L335.53 66.92 L336.58 67.47 L337.63 68.02 L338.69 68.58 L339.74 69.13 L340.79 69.69 L341.84 70.24 L342.90 70.79 L343.96 71.35 L345.01 71.90 L346.07 72.45 L347.12 73.01 L348.18 73.57 L349.23 74.12 L350.28 74.69 L351.33 75.25 L352.38 75.82 L353.43 76.40 L354.47 76.98 L355.51 77.56 L356.54 78.15 L357.57 78.75 L358.59 79.36 L359.61 79.98 L360.63 80.60 L361.64 81.23 L362.64 81.87 L363.64 82.53 L364.62 83.19 L365.60 83.87 L366.58 84.55 L367.54 85.25 L368.50 85.97 L369.45 86.69 L370.38 87.43 L371.31 88.19 L372.23 88.95 L373.14 89.73 L374.03 90.52 L374.92 91.32 L375.80 92.14 L376.66 92.96 L377.51 93.80 L378.36 94.65 L379.18 95.51 L380.00 96.38 L380.80 97.27 L381.59 98.16 L382.37 99.07 L383.13 99.98 L383.88 100.91 L384.62 101.85 L385.34 102.79 L386.04 103.75 L386.74 104.72 L387.41 105.69 L388.07 106.68 L388.71 107.68 L389.34 108.68 L389.95 109.70 L390.55 110.72 L391.12 111.75 L391.68 112.79 L392.22 113.84 L392.75 114.90 L393.25 115.97 L393.74 117.04 L394.21 118.12 L394.66 119.21 L395.10 120.31 L395.52 121.41 L395.93 122.52 L396.32 123.64 L396.69 124.76 L397.06 125.89 L397.41 127.02 L397.75 128.16 L398.07 129.31 L398.38 130.45 L398.69 131.61 L398.98 132.76 L399.26 133.92 L399.54 135.09 L399.80 136.26 L400.06 137.43 L400.30 138.60 L400.54 139.77 L400.66 140.36 L400.78 140.95 L400.89 141.54 L401.01 142.13 L401.12 142.72 L401.23 143.31 L401.34 143.90 L401.45 144.49 L401.55 145.09 L401.66 145.68 L401.76 146.27 L401.87 146.86 L401.97 147.45 L402.07 148.05 L402.17 148.64 L402.27 149.23 L402.37 149.82 L402.47 150.42 L402.57 151.01 L402.67 151.60 L402.76 152.19 L402.96 153.38 L403.15 154.56 L403.34 155.74 L403.53 156.93 L403.71 158.11 L403.89 159.29 L404.08 160.48 L404.25 161.66 L404.43 162.84 L404.61 164.02 L404.78 165.20 L404.95 166.39 L405.12 167.57 L405.29 168.75 L405.46 169.93 L405.62 171.11 L405.78 172.29 L405.94 173.47 L406.10 174.65 L406.26 175.83 L406.41 177.01 L406.57 178.20 L406.72 179.38 L406.87 180.56 L407.02 181.74 L407.17 182.92 L407.31 184.10 L407.46 185.28 L407.60 186.46 L407.74 187.64 L407.88 188.82 L408.02 190.00 L408.15 191.18 L408.29 192.36 L408.42 193.54 L408.56 194.72 L408.69 195.90 L408.82 197.08 L408.95 198.26 L409.08 199.44 L409.20 200.62 L409.33 201.80 L409.45 202.98 L409.57 204.16 L409.70 205.34 L409.82 206.52 L409.94 207.70 L410.05 208.88 L410.17 210.06 L410.29 211.24 L410.40 212.42 L410.52 213.60 L410.63 214.78 L410.74 215.97 L410.86 217.15 L410.97 218.33 L411.08 219.51 L411.18 220.69 L411.29 221.88 L411.40 223.06 L411.51 224.24 L411.61 225.42 L411.72 226.61 L411.82 227.79 L411.93 228.97 L412.03 230.16 L412.13 231.34 L412.24 232.52 L412.34 233.71 L412.45 234.89 L412.55 236.08 L412.66 237.26 L412.76 238.45 L412.87 239.63 L412.98 240.82 L413.09 242.00 L413.20 243.18 L413.31 244.37 L413.43 245.55 L413.54 246.74 L413.66 247.92 L413.78 249.11 L413.90 250.29 L414.03 251.48 L414.16 252.66 L414.29 253.85 L414.42 255.03 L414.56 256.22 L414.70 257.40 L414.84 258.59 L414.98 259.77 L415.13 260.95 L415.29 262.14 L415.44 263.32 L415.61 264.51 L415.77 265.69 L415.94 266.87 L416.11 268.05 L416.29 269.24 L416.48 270.42 L416.67 271.60 L416.86 272.78 L417.06 273.97 L417.26 275.15 L417.47 276.33 L417.69 277.51 L417.91 278.69 L418.15 279.86 L418.39 281.04 L418.65 282.21 L418.92 283.37 L419.20 284.53 L419.50 285.69 L419.81 286.84 L420.15 287.98 L420.50 289.11 L420.87 290.24 L421.27 291.36 L421.68 292.46 L422.12 293.56 L422.59 294.65 L423.08 295.72 L423.60 296.79 L424.15 297.84 L424.73 298.87 L425.34 299.89 L425.98 300.90 L426.65 301.87 L427.35 302.83 L428.09 303.75 L428.86 304.65 L429.67 305.51 L430.51 306.33 L431.39 307.12 L432.30 307.86 L433.25 308.55 L434.23 309.20 L435.24 309.82 L436.27 310.40 L437.33 310.95 L438.41 311.48 L438.96 311.73 L439.50 311.99 L440.06 312.23 L440.61 312.48 L441.16 312.72 L441.72 312.96 L442.28 313.20 L442.83 313.44 L443.39 313.67 L443.95 313.91 L444.50 314.15 L445.06 314.39 L445.61 314.63 L446.16 314.87 L446.71 315.12 L447.26 315.36 L448.35 315.85 L449.44 316.35 L450.52 316.85 L451.60 317.34 L452.68 317.84 L453.76 318.33 L454.84 318.81 L455.93 319.29 L457.01 319.76 L458.10 320.22 L459.20 320.67 L460.30 321.10 L461.40 321.53 L462.51 321.95 L463.62 322.36 L464.74 322.76 L465.85 323.15 L466.98 323.53 L468.10 323.90 L469.23 324.27 L470.36 324.63 L471.50 324.98 L472.64 325.33 L473.78 325.67 L474.92 326.00 L476.07 326.33 L477.21 326.65 L478.36 326.97 L479.51 327.29 L480.67 327.60 L481.82 327.91 L482.98 328.21 L484.13 328.51 L485.29 328.81 L486.45 329.11 L487.61 329.40 L488.77 329.70 L489.93 329.99 L491.09 330.28 L492.25 330.58 L493.41 330.87 L494.57 331.16 L495.73 331.46 L496.89 331.75 L498.05 332.05 L499.21 332.35 L500.37 332.65 L501.53 332.95 L502.68 333.26 L503.84 333.57 L504.99 333.89 L506.14 334.20 L507.29 334.53 L508.44 334.86 L509.58 335.19 L510.72 335.53 L511.86 335.88 L513.00 336.23 L514.14 336.59 L515.27 336.95 L516.40 337.33 L517.52 337.71 L518.65 338.10 L519.76 338.50 L520.88 338.90 L521.99 339.32 L523.10 339.75 L524.20 340.18 L525.30 340.63 L526.40 341.09 L527.49 341.55 L528.58 342.02 L529.66 342.50 L530.75 342.98 L531.83 343.47 L532.91 343.96 L534.00 344.45 L535.08 344.95 L536.16 345.45 L537.24 345.94 L538.32 346.44 L539.41 346.93 L540.49 347.42 L541.58 347.91 L542.67 348.39 L543.76 348.86 L544.86 349.33 L545.96 349.79 L547.07 350.25 L548.18 350.69 L549.29 351.13 L550.40 351.56 L551.52 351.99 L552.64 352.42 L553.76 352.84 L554.87 353.26 L555.99 353.69 L557.11 354.11 L558.22 354.54 L559.34 354.98 L560.44 355.42 L561.55 355.86 L562.65 356.32 L563.74 356.79 L564.83 357.26 L565.91 357.75 L566.99 358.25 L568.06 358.77 L569.11 359.31 L570.16 359.86 L571.20 360.43 L572.23 361.01 L573.25 361.62 L574.27 362.23 L575.27 362.86 L576.27 363.50 L577.27 364.15 L578.27 364.81 L579.26 365.47 L580.25 366.13 L581.24 366.80 L582.23 367.46 L583.22 368.12 L584.22 368.78 L585.21 369.43 L586.22 370.08 L587.23 370.71 L588.24 371.34 L589.26 371.96 L590.29 372.57 L591.32 373.17 L592.35 373.76 L593.39 374.34 L594.43 374.92 L595.48 375.49 L596.53 376.05 L597.59 376.60 L598.65 377.15 L599.71 377.69 L600.78 378.23 L601.85 378.76 L602.92 379.27 L604.00 379.78 L605.09 380.26 L606.18 380.73 L607.29 381.17 L608.40 381.59 L609.52 381.98 L610.65 382.34 L611.79 382.66 L612.94 382.94 L614.11 383.18 L615.30 383.37 L615.89 383.45 L616.49 383.52 L616.49 383.52" fill="none" stroke="#7030A0" stroke-width="2.0" stroke-linejoin="round" stroke-linecap="butt"/>
<path d="M107.00 8.60 L107.00 9.70 L108.18 9.78 L109.36 9.86 L110.54 9.95 L111.73 10.04 L112.92 10.14 L114.11 10.24 L115.31 10.36 L115.91 10.42 L116.50 10.48 L117.10 10.54 L117.70 10.61 L118.30 10.68 L118.90 10.75 L119.49 10.82 L120.09 10.90 L120.69 10.98 L121.28 11.07 L121.88 11.15 L122.48 11.24 L123.07 11.34 L123.66 11.43 L124.26 11.53 L124.85 11.64 L125.44 11.75 L126.03 11.86 L126.62 11.97 L127.21 12.09 L128.38 12.35 L129.55 12.62 L130.71 12.91 L131.86 13.22 L133.00 13.55 L134.14 13.90 L135.27 14.28 L136.39 14.67 L137.50 15.09 L138.61 15.52 L139.71 15.97 L140.81 16.43 L141.90 16.91 L142.98 17.39 L144.07 17.89 L145.15 18.38 L146.24 18.88 L147.32 19.38 L148.41 19.88 L149.50 20.38 L150.59 20.87 L151.69 21.35 L152.79 21.82 L153.34 22.06 L153.90 22.29 L154.45 22.53 L155.01 22.75 L155.56 22.98 L156.12 23.21 L156.68 23.43 L157.23 23.65 L157.79 23.87 L158.35 24.09 L158.92 24.31 L159.48 24.52 L160.04 24.73 L160.60 24.94 L161.17 25.15 L161.73 25.35 L162.30 25.55 L162.87 25.75 L163.43 25.95 L164.00 26.14 L164.57 26.33 L165.14 26.52 L165.71 26.71 L166.28 26.90 L166.85 27.08 L167.43 27.26 L168.57 27.61 L169.72 27.95 L170.88 28.27 L172.03 28.59 L173.19 28.89 L174.35 29.19 L175.51 29.47 L176.68 29.73 L177.84 29.99 L179.01 30.23 L180.18 30.46 L181.35 30.67 L182.53 30.87 L183.70 31.06 L184.88 31.23 L186.06 31.39 L187.24 31.53 L188.42 31.66 L189.60 31.77 L190.79 31.88 L191.97 31.97 L193.16 32.05 L194.34 32.12 L195.53 32.18 L196.72 32.24 L197.91 32.29 L199.10 32.33 L200.29 32.37 L201.49 32.40 L202.68 32.43 L203.87 32.46 L205.07 32.48 L206.26 32.51 L207.46 32.54 L208.66 32.56 L209.85 32.59 L211.05 32.63 L212.25 32.66 L213.44 32.69 L214.64 32.73 L215.84 32.77 L217.04 32.81 L218.24 32.86 L219.43 32.90 L220.63 32.95 L221.83 33.00 L223.03 33.06 L224.23 33.12 L225.43 33.18 L226.03 33.21 L226.63 33.24 L227.22 33.27 L227.82 33.30 L228.42 33.34 L229.02 33.37 L229.62 33.41 L230.22 33.45 L230.82 33.48 L231.42 33.52 L232.02 33.56 L233.21 33.64 L234.41 33.72 L235.61 33.81 L236.80 33.90 L238.00 34.00 L239.19 34.10 L240.39 34.20 L241.58 34.30 L242.78 34.41 L243.97 34.53 L245.16 34.65 L246.35 34.77 L247.55 34.90 L248.74 35.03 L249.93 35.16 L251.11 35.30 L252.30 35.45 L253.49 35.60 L254.67 35.75 L255.86 35.91 L257.04 36.08 L258.23 36.25 L259.41 36.42 L260.59 36.60 L261.77 36.79 L262.95 36.98 L264.12 37.18 L265.30 37.38 L266.48 37.59 L267.65 37.80 L268.82 38.02 L269.99 38.25 L271.16 38.48 L272.33 38.71 L273.49 38.96 L274.66 39.21 L275.82 39.46 L276.98 39.73 L278.14 39.99 L279.30 40.27 L280.46 40.55 L281.61 40.84 L282.77 41.14 L283.92 41.44 L285.07 41.75 L286.21 42.07 L287.36 42.39 L288.50 42.72 L289.64 43.06 L290.78 43.40 L291.92 43.76 L293.06 44.12 L294.19 44.48 L295.32 44.86 L296.45 45.24 L297.58 45.62 L298.71 46.02 L299.83 46.41 L300.96 46.82 L302.08 47.23 L303.20 47.64 L304.32 48.06 L305.43 48.49 L306.55 48.92 L307.66 49.35 L308.78 49.79 L309.89 50.23 L311.00 50.68 L312.11 51.13 L313.22 51.58 L314.33 52.04 L315.43 52.50 L316.54 52.96 L317.64 53.43 L318.75 53.90 L319.85 54.37 L320.95 54.84 L321.51 55.08 L322.06 55.32 L322.61 55.56 L323.16 55.80 L323.71 56.04 L324.26 56.28 L324.81 56.52 L325.36 56.76 L325.91 57.00 L326.46 57.24 L327.00 57.49 L327.55 57.73 L328.10 57.98 L328.65 58.22 L329.19 58.47 L329.74 58.72 L330.83 59.21 L331.92 59.71 L333.01 60.22 L334.10 60.73 L335.18 61.24 L336.26 61.76 L337.34 62.28 L338.42 62.80 L339.49 63.33 L340.56 63.87 L341.63 64.41 L342.69 64.96 L343.75 65.51 L344.81 66.06 L345.86 66.63 L346.91 67.19 L347.96 67.77 L349.00 68.35 L350.04 68.94 L351.07 69.53 L352.10 70.13 L353.12 70.74 L354.14 71.35 L355.15 71.98 L356.16 72.61 L357.17 73.24 L358.17 73.89 L359.16 74.54 L360.15 75.21 L361.13 75.88 L362.11 76.55 L363.08 77.24 L364.04 77.94 L365.00 78.64 L365.95 79.36 L366.90 80.08 L367.83 80.82 L368.77 81.56 L369.69 82.31 L370.61 83.08 L371.52 83.85 L372.42 84.63 L373.32 85.43 L374.21 86.23 L375.09 87.05 L375.52 87.46 L375.95 87.88 L376.39 88.30 L376.81 88.72 L377.24 89.14 L377.66 89.57 L378.08 90.00 L378.50 90.43 L378.91 90.87 L379.32 91.31 L379.73 91.75 L380.13 92.20 L380.53 92.65 L381.31 93.56 L382.08 94.48 L382.82 95.41 L383.55 96.36 L384.26 97.32 L384.95 98.30 L385.62 99.29 L386.26 100.30 L386.88 101.32 L387.48 102.35 L388.06 103.40 L388.61 104.46 L389.15 105.53 L389.67 106.61 L390.17 107.70 L390.65 108.80 L390.89 109.35 L391.12 109.90 L391.35 110.46 L391.57 111.02 L391.79 111.57 L392.01 112.13 L392.22 112.70 L392.44 113.26 L392.64 113.82 L392.85 114.39 L393.05 114.95 L393.45 116.08 L393.83 117.22 L394.21 118.35 L394.57 119.49 L394.93 120.63 L395.28 121.78 L395.61 122.92 L395.94 124.07 L396.26 125.22 L396.57 126.38 L396.88 127.53 L397.17 128.69 L397.46 129.84 L397.74 131.00 L398.02 132.17 L398.28 133.33 L398.55 134.49 L398.80 135.66 L399.05 136.83 L399.29 138.00 L399.53 139.16 L399.76 140.34 L399.99 141.51 L400.21 142.68 L400.43 143.85 L400.65 145.03 L400.86 146.21 L401.07 147.38 L401.27 148.56 L401.48 149.74 L401.68 150.91 L401.87 152.09 L402.07 153.27 L402.26 154.45 L402.45 155.63 L402.64 156.81 L402.82 157.99 L403.00 159.17 L403.18 160.36 L403.36 161.54 L403.53 162.72 L403.71 163.90 L403.88 165.09 L404.05 166.27 L404.21 167.46 L404.38 168.64 L404.54 169.82 L404.70 171.01 L404.86 172.20 L405.01 173.38 L405.17 174.57 L405.32 175.75 L405.47 176.94 L405.62 178.13 L405.76 179.31 L405.91 180.50 L406.05 181.69 L406.19 182.88 L406.33 184.07 L406.46 185.25 L406.60 186.44 L406.73 187.63 L406.86 188.82 L406.99 190.01 L407.12 191.20 L407.25 192.39 L407.37 193.58 L407.50 194.77 L407.62 195.96 L407.74 197.15 L407.86 198.34 L407.98 199.53 L408.09 200.72 L408.21 201.91 L408.32 203.10 L408.44 204.29 L408.55 205.48 L408.66 206.67 L408.77 207.86 L408.87 209.05 L408.98 210.24 L409.08 211.43 L409.19 212.62 L409.29 213.81 L409.39 215.00 L409.49 216.20 L409.59 217.39 L409.69 218.58 L409.79 219.77 L409.89 220.96 L409.98 222.15 L410.08 223.34 L410.17 224.53 L410.26 225.72 L410.36 226.91 L410.45 228.10 L410.54 229.28 L410.63 230.47 L410.72 231.66 L410.82 232.85 L410.91 234.04 L411.00 235.23 L411.10 236.42 L411.20 237.61 L411.29 238.79 L411.39 239.98 L411.50 241.17 L411.60 242.36 L411.70 243.54 L411.81 244.73 L411.93 245.92 L412.04 247.10 L412.16 248.29 L412.28 249.48 L412.40 250.66 L412.53 251.85 L412.67 253.03 L412.80 254.22 L412.95 255.40 L413.09 256.59 L413.24 257.77 L413.40 258.95 L413.56 260.14 L413.73 261.32 L413.91 262.50 L414.09 263.68 L414.27 264.87 L414.47 266.05 L414.67 267.23 L414.87 268.41 L415.09 269.59 L415.20 270.18 L415.31 270.77 L415.42 271.36 L415.54 271.95 L415.65 272.54 L415.77 273.13 L415.90 273.72 L416.02 274.31 L416.14 274.90 L416.27 275.49 L416.40 276.08 L416.53 276.67 L416.67 277.26 L416.81 277.84 L416.95 278.43 L417.09 279.02 L417.24 279.60 L417.39 280.19 L417.54 280.77 L417.70 281.35 L417.86 281.93 L418.02 282.51 L418.19 283.09 L418.37 283.66 L418.54 284.24 L418.91 285.38 L419.30 286.51 L419.71 287.63 L420.15 288.74 L420.60 289.84 L421.08 290.93 L421.59 292.00 L422.12 293.05 L422.68 294.09 L423.27 295.12 L423.90 296.12 L424.55 297.11 L425.24 298.08 L425.96 299.02 L426.72 299.95 L427.51 300.84 L428.32 301.72 L429.17 302.57 L429.61 302.98 L430.05 303.38 L430.50 303.78 L430.96 304.17 L431.42 304.56 L431.89 304.93 L432.36 305.30 L433.33 306.00 L434.32 306.68 L435.34 307.31 L436.37 307.91 L437.43 308.48 L438.49 309.02 L439.57 309.54 L440.66 310.04 L441.75 310.52 L442.85 310.99 L443.95 311.45 L445.06 311.90 L446.17 312.34 L447.29 312.76 L448.41 313.18 L449.53 313.59 L450.66 314.00 L451.78 314.39 L452.92 314.78 L454.05 315.16 L455.18 315.54 L456.32 315.92 L457.46 316.29 L458.60 316.66 L459.74 317.02 L460.88 317.39 L462.02 317.75 L463.16 318.12 L464.30 318.48 L465.44 318.85 L466.58 319.22 L467.71 319.59 L468.85 319.96 L469.99 320.34 L471.12 320.72 L472.25 321.11 L473.38 321.50 L474.51 321.89 L475.64 322.28 L476.77 322.68 L477.90 323.08 L479.02 323.48 L480.15 323.88 L481.28 324.28 L482.40 324.68 L483.53 325.08 L484.65 325.48 L485.78 325.88 L486.91 326.28 L488.03 326.68 L489.16 327.07 L490.29 327.46 L491.42 327.86 L492.54 328.24 L493.67 328.63 L494.81 329.01 L495.94 329.38 L497.07 329.76 L498.21 330.13 L499.35 330.49 L500.49 330.85 L501.63 331.20 L502.77 331.55 L503.91 331.90 L505.05 332.25 L506.20 332.59 L507.34 332.93 L508.49 333.27 L509.63 333.62 L510.78 333.96 L511.92 334.30 L513.07 334.64 L514.21 334.98 L515.36 335.32 L516.50 335.67 L517.64 336.02 L518.78 336.37 L519.92 336.72 L521.06 337.08 L522.20 337.44 L523.34 337.81 L524.47 338.18 L525.61 338.56 L526.74 338.95 L527.87 339.34 L528.99 339.74 L530.12 340.14 L531.24 340.56 L532.36 340.98 L533.48 341.41 L534.59 341.84 L535.70 342.28 L536.81 342.73 L537.92 343.19 L539.02 343.65 L540.13 344.12 L541.23 344.59 L542.32 345.07 L543.42 345.56 L544.51 346.05 L545.60 346.54 L546.69 347.04 L547.78 347.54 L548.86 348.05 L549.94 348.57 L551.02 349.08 L552.10 349.60 L553.18 350.13 L554.25 350.65 L555.32 351.19 L556.39 351.72 L557.45 352.26 L558.52 352.80 L559.58 353.34 L560.64 353.89 L561.70 354.44 L562.76 355.00 L563.81 355.56 L564.86 356.12 L565.91 356.69 L566.96 357.26 L568.00 357.83 L569.05 358.41 L570.09 358.99 L571.12 359.58 L572.16 360.17 L573.20 360.76 L574.23 361.36 L575.26 361.96 L576.29 362.56 L577.31 363.17 L578.33 363.78 L579.36 364.40 L580.37 365.02 L581.39 365.65 L582.41 366.28 L583.42 366.91 L584.43 367.55 L585.44 368.19 L586.44 368.84 L587.45 369.49 L588.45 370.14 L589.45 370.80 L590.45 371.46 L591.45 372.12 L592.45 372.78 L593.46 373.43 L594.46 374.08 L595.47 374.72 L596.49 375.35 L597.51 375.98 L598.54 376.59 L599.57 377.18 L600.62 377.76 L601.67 378.33 L602.74 378.87 L603.81 379.40 L604.90 379.90 L605.99 380.38 L607.10 380.83 L608.22 381.26 L609.34 381.66 L610.48 382.03 L611.62 382.36 L612.78 382.66 L613.94 382.93 L615.12 383.16 L615.71 383.26 L616.31 383.35 L616.90 383.44 L617.50 383.51 L617.50 383.51" fill="none" stroke="#002060" stroke-width="2.0" stroke-linejoin="round" stroke-linecap="butt"/>
<path d="M107.00 6.90 L107.00 7.40 L107.66 7.43 L108.32 7.45 L108.98 7.47 L109.64 7.49 L110.30 7.50 L110.96 7.52 L111.62 7.53 L112.28 7.53 L112.94 7.54 L113.61 7.54 L114.27 7.54 L114.93 7.54 L115.59 7.54 L116.25 7.53 L116.92 7.53 L117.58 7.52 L118.24 7.52 L118.90 7.51 L119.56 7.50 L120.23 7.49 L120.89 7.48 L121.55 7.48 L122.21 7.47 L122.87 7.46 L123.54 7.45 L124.20 7.45 L124.86 7.44 L125.52 7.44 L126.18 7.44 L126.85 7.44 L127.51 7.44 L128.17 7.44 L128.83 7.45 L129.49 7.45 L130.15 7.46 L130.81 7.47 L131.47 7.49 L132.13 7.51 L132.80 7.53 L133.46 7.55 L134.11 7.58 L134.77 7.61 L135.43 7.65 L136.09 7.69 L136.75 7.73 L137.41 7.77 L138.07 7.82 L138.73 7.88 L139.38 7.93 L140.04 7.99 L140.70 8.06 L141.36 8.12 L142.01 8.19 L142.67 8.26 L143.33 8.33 L143.98 8.41 L144.64 8.49 L145.30 8.57 L145.95 8.65 L146.61 8.73 L147.27 8.82 L147.92 8.91 L148.58 9.00 L149.23 9.09 L149.89 9.18 L150.54 9.28 L151.20 9.37 L151.85 9.47 L152.51 9.57 L153.17 9.66 L153.82 9.76 L154.48 9.86 L155.13 9.96 L155.79 10.06 L156.44 10.16 L157.10 10.26 L157.75 10.36 L158.41 10.46 L159.06 10.56 L159.72 10.66 L160.37 10.76 L161.03 10.86 L161.68 10.96 L162.34 11.06 L162.99 11.15 L163.65 11.25 L164.30 11.35 L164.96 11.44 L165.62 11.53 L166.27 11.62 L166.93 11.71 L167.58 11.80 L168.24 11.89 L168.90 11.97 L169.55 12.06 L170.21 12.14 L170.86 12.22 L171.52 12.30 L172.18 12.38 L172.83 12.46 L173.49 12.53 L174.15 12.61 L174.81 12.68 L175.46 12.76 L176.12 12.83 L176.78 12.90 L177.43 12.97 L178.09 13.04 L178.75 13.11 L179.41 13.17 L180.07 13.24 L180.72 13.30 L181.38 13.36 L182.04 13.42 L182.70 13.49 L183.35 13.55 L184.01 13.60 L184.67 13.66 L185.33 13.72 L185.99 13.77 L186.65 13.83 L187.31 13.88 L187.96 13.93 L188.62 13.99 L189.28 14.04 L189.94 14.09 L190.60 14.13 L191.26 14.18 L191.92 14.23 L192.58 14.27 L193.24 14.32 L193.89 14.36 L194.55 14.41 L195.21 14.45 L195.87 14.49 L196.53 14.53 L197.19 14.57 L197.85 14.61 L198.51 14.65 L199.17 14.69 L199.83 14.72 L200.49 14.76 L201.15 14.79 L201.81 14.83 L202.47 14.86 L203.13 14.89 L203.79 14.92 L204.45 14.96 L205.11 14.99 L205.77 15.02 L206.43 15.05 L207.09 15.07 L207.75 15.10 L208.41 15.13 L209.07 15.16 L209.73 15.18 L210.39 15.21 L211.05 15.23 L211.71 15.26 L212.37 15.28 L213.04 15.30 L213.70 15.32 L214.36 15.35 L215.02 15.37 L215.68 15.39 L216.34 15.41 L217.00 15.43 L217.66 15.45 L218.32 15.46 L218.98 15.48 L219.64 15.50 L220.30 15.52 L220.97 15.53 L221.63 15.55 L222.29 15.57 L222.95 15.58 L223.61 15.60 L224.27 15.61 L224.93 15.62 L225.59 15.64 L226.26 15.65 L226.92 15.67 L227.58 15.68 L228.24 15.69 L228.90 15.70 L229.56 15.71 L230.22 15.73 L230.88 15.74 L231.55 15.75 L232.21 15.76 L232.87 15.77 L233.53 15.78 L234.19 15.79 L234.85 15.80 L235.51 15.81 L236.18 15.82 L236.84 15.83 L237.50 15.83 L238.16 15.84 L238.82 15.85 L239.48 15.86 L240.14 15.87 L240.81 15.88 L241.47 15.88 L242.13 15.89 L242.79 15.90 L243.45 15.91 L244.11 15.91 L244.78 15.92 L245.44 15.93 L246.10 15.93 L246.76 15.94 L247.42 15.95 L248.08 15.95 L248.74 15.96 L249.41 15.97 L250.07 15.97 L250.73 15.98 L251.39 15.99 L252.05 15.99 L252.71 16.00 L253.38 16.00 L254.04 16.01 L254.70 16.02 L255.36 16.02 L256.02 16.03 L256.68 16.03 L257.34 16.04 L258.01 16.04 L258.67 16.05 L259.33 16.06 L259.99 16.06 L260.65 16.07 L261.31 16.07 L261.97 16.08 L262.64 16.08 L263.30 16.09 L263.96 16.09 L264.62 16.10 L265.28 16.10 L265.94 16.11 L266.61 16.11 L267.27 16.12 L267.93 16.12 L268.59 16.13 L269.25 16.13 L269.91 16.14 L270.57 16.14 L271.24 16.15 L271.90 16.15 L272.56 16.16 L273.22 16.16 L273.88 16.17 L274.54 16.17 L275.20 16.18 L275.87 16.18 L276.53 16.19 L277.19 16.20 L277.85 16.20 L278.51 16.21 L279.17 16.21 L279.84 16.22 L280.50 16.22 L281.16 16.23 L281.82 16.23 L282.48 16.24 L283.14 16.25 L283.80 16.25 L284.46 16.26 L285.13 16.26 L285.79 16.27 L286.45 16.28 L287.11 16.28 L287.77 16.29 L288.43 16.29 L289.09 16.30 L289.76 16.31 L290.42 16.32 L291.08 16.32 L291.74 16.33 L292.40 16.34 L293.06 16.34 L293.72 16.35 L294.39 16.36 L295.05 16.37 L295.71 16.37 L296.37 16.38 L297.03 16.39 L297.69 16.40 L298.35 16.41 L299.01 16.41 L299.68 16.42 L300.34 16.43 L301.00 16.44 L301.66 16.45 L302.32 16.46 L302.98 16.47 L303.64 16.48 L304.30 16.49 L304.96 16.50 L305.63 16.51 L306.29 16.52 L306.95 16.53 L307.61 16.54 L308.27 16.55 L308.93 16.56 L309.59 16.57 L310.25 16.58 L310.91 16.59 L311.58 16.61 L312.24 16.62 L312.90 16.63 L313.56 16.64 L314.22 16.65 L314.88 16.67 L315.54 16.68 L316.20 16.69 L316.86 16.71 L317.52 16.72 L318.19 16.74 L318.85 16.75 L319.51 16.76 L320.17 16.78 L320.83 16.79 L321.49 16.81 L322.15 16.82 L322.81 16.84 L323.47 16.86 L324.13 16.87 L324.79 16.89 L325.45 16.91 L326.12 16.92 L326.78 16.94 L327.44 16.96 L328.10 16.98 L328.76 16.99 L329.42 17.01 L330.08 17.03 L330.74 17.05 L331.40 17.07 L332.06 17.09 L332.72 17.11 L333.38 17.13 L334.04 17.15 L334.70 17.17 L335.36 17.19 L336.03 17.21 L336.69 17.24 L337.35 17.26 L338.01 17.28 L338.67 17.30 L339.33 17.33 L339.99 17.35 L340.65 17.38 L341.31 17.40 L341.97 17.42 L342.63 17.45 L343.29 17.48 L343.95 17.50 L344.61 17.53 L345.27 17.56 L345.93 17.58 L346.59 17.61 L347.25 17.64 L347.91 17.67 L348.57 17.70 L349.23 17.73 L349.89 17.76 L350.55 17.80 L351.21 17.83 L351.87 17.87 L352.53 17.90 L353.19 17.94 L353.85 17.97 L354.51 18.01 L355.17 18.05 L355.83 18.09 L356.49 18.13 L357.15 18.18 L357.81 18.22 L358.47 18.26 L359.13 18.31 L359.79 18.36 L360.45 18.40 L361.11 18.45 L361.77 18.51 L362.43 18.56 L363.09 18.61 L363.74 18.67 L364.40 18.72 L365.06 18.78 L365.72 18.84 L366.38 18.90 L367.04 18.96 L367.70 19.03 L368.36 19.09 L369.01 19.16 L369.67 19.23 L370.33 19.30 L370.99 19.37 L371.65 19.45 L372.31 19.52 L372.96 19.60 L373.62 19.68 L374.28 19.76 L374.94 19.84 L375.60 19.93 L376.25 20.02 L376.91 20.11 L377.57 20.20 L378.23 20.29 L378.88 20.39 L379.54 20.48 L380.20 20.58 L380.86 20.68 L381.51 20.79 L382.17 20.90 L382.83 21.01 L383.48 21.12 L384.14 21.24 L384.79 21.36 L385.44 21.50 L386.09 21.63 L386.73 21.78 L387.37 21.94 L388.01 22.10 L388.65 22.28 L389.28 22.46 L389.90 22.66 L390.52 22.87 L391.14 23.10 L391.75 23.34 L392.36 23.59 L392.95 23.86 L393.55 24.15 L394.13 24.45 L394.71 24.77 L395.27 25.11 L395.83 25.47 L396.37 25.84 L396.90 26.23 L397.41 26.63 L397.92 27.06 L398.40 27.50 L398.87 27.96 L399.32 28.44 L399.75 28.94 L400.16 29.45 L400.57 29.97 L400.96 30.51 L401.33 31.05 L401.70 31.60 L402.07 32.16 L402.42 32.73 L402.77 33.30 L403.12 33.87 L403.46 34.44 L403.81 35.01 L404.15 35.59 L404.48 36.16 L404.81 36.74 L405.13 37.32 L405.45 37.90 L405.75 38.48 L406.05 39.07 L406.33 39.66 L406.59 40.26 L406.85 40.87 L407.09 41.48 L407.32 42.09 L407.54 42.71 L407.75 43.33 L407.95 43.96 L408.14 44.59 L408.32 45.22 L408.50 45.86 L408.68 46.49 L408.85 47.13 L409.02 47.77 L409.19 48.41 L409.36 49.05 L409.53 49.69 L409.70 50.33 L409.87 50.96 L410.04 51.60 L410.21 52.24 L410.39 52.88 L410.56 53.52 L410.73 54.16 L410.90 54.80 L411.07 55.44 L411.24 56.08 L411.41 56.72 L411.58 57.36 L411.75 58.00 L411.92 58.64 L412.08 59.28 L412.25 59.92 L412.41 60.56 L412.57 61.20 L412.73 61.84 L412.89 62.48 L413.04 63.13 L413.19 63.77 L413.34 64.42 L413.49 65.06 L413.64 65.71 L413.78 66.35 L413.92 67.00 L414.05 67.64 L414.19 68.29 L414.32 68.94 L414.45 69.59 L414.58 70.24 L414.70 70.89 L414.83 71.54 L414.95 72.19 L415.07 72.84 L415.19 73.49 L415.30 74.14 L415.42 74.79 L415.53 75.44 L415.65 76.09 L415.76 76.74 L415.87 77.40 L415.98 78.05 L416.09 78.70 L416.20 79.35 L416.30 80.00 L416.41 80.66 L416.52 81.31 L416.62 81.96 L416.73 82.61 L416.83 83.27 L416.93 83.92 L417.03 84.57 L417.13 85.23 L417.23 85.88 L417.33 86.53 L417.43 87.19 L417.53 87.84 L417.63 88.49 L417.72 89.15 L417.82 89.80 L417.92 90.46 L418.01 91.11 L418.11 91.76 L418.20 92.42 L418.29 93.07 L418.39 93.73 L418.48 94.38 L418.57 95.04 L418.66 95.69 L418.75 96.34 L418.84 97.00 L418.94 97.65 L419.03 98.31 L419.11 98.96 L419.20 99.62 L419.29 100.27 L419.38 100.93 L419.47 101.58 L419.56 102.24 L419.65 102.89 L419.74 103.55 L419.82 104.20 L419.91 104.86 L420.00 105.52 L420.09 106.17 L420.17 106.83 L420.26 107.48 L420.35 108.14 L420.43 108.79 L420.52 109.45 L420.61 110.10 L420.70 110.76 L420.78 111.42 L420.87 112.07 L420.96 112.73 L421.04 113.38 L421.13 114.04 L421.22 114.69 L421.31 115.35 L421.39 116.01 L421.48 116.66 L421.57 117.32 L421.66 117.97 L421.74 118.63 L421.83 119.28 L421.92 119.94 L422.00 120.60 L422.09 121.25 L422.17 121.91 L422.25 122.57 L422.33 123.22 L422.41 123.88 L422.49 124.54 L422.57 125.19 L422.64 125.85 L422.71 126.51 L422.78 127.16 L422.85 127.82 L422.92 128.48 L422.98 129.14 L423.04 129.80 L423.10 130.45 L423.16 131.11 L423.21 131.77 L423.27 132.43 L423.32 133.09 L423.36 133.75 L423.41 134.41 L423.46 135.07 L423.50 135.73 L423.54 136.39 L423.58 137.05 L423.62 137.71 L423.66 138.37 L423.70 139.03 L423.74 139.69 L423.78 140.35 L423.82 141.01 L423.86 141.67 L423.89 142.33 L423.93 142.99 L423.97 143.65 L424.01 144.31 L424.05 144.97 L424.10 145.63 L424.14 146.29 L424.19 146.95 L424.23 147.61 L424.28 148.27 L424.33 148.93 L424.38 149.59 L424.44 150.24 L424.49 150.90 L424.55 151.56 L424.61 152.22 L424.68 152.88 L424.74 153.54 L424.81 154.19 L424.88 154.85 L424.95 155.51 L425.02 156.17 L425.09 156.82 L425.16 157.48 L425.24 158.14 L425.32 158.79 L425.39 159.45 L425.47 160.11 L425.55 160.76 L425.63 161.42 L425.71 162.08 L425.79 162.73 L425.87 163.39 L425.95 164.05 L426.03 164.70 L426.12 165.36 L426.20 166.02 L426.28 166.67 L426.36 167.33 L426.44 167.99 L426.52 168.64 L426.60 169.30 L426.68 169.96 L426.76 170.61 L426.84 171.27 L426.92 171.93 L426.99 172.58 L427.07 173.24 L427.14 173.90 L427.21 174.56 L427.28 175.21 L427.35 175.87 L427.42 176.53 L427.49 177.19 L427.55 177.84 L427.62 178.50 L427.68 179.16 L427.74 179.82 L427.81 180.48 L427.86 181.13 L427.92 181.79 L427.98 182.45 L428.04 183.11 L428.09 183.77 L428.15 184.43 L428.20 185.09 L428.25 185.75 L428.31 186.40 L428.36 187.06 L428.41 187.72 L428.46 188.38 L428.51 189.04 L428.56 189.70 L428.61 190.36 L428.66 191.02 L428.70 191.68 L428.75 192.34 L428.80 193.00 L428.84 193.66 L428.89 194.32 L428.94 194.98 L428.98 195.64 L429.03 196.30 L429.07 196.96 L429.12 197.62 L429.16 198.28 L429.21 198.94 L429.25 199.60 L429.30 200.26 L429.35 200.92 L429.39 201.57 L429.44 202.23 L429.48 202.89 L429.53 203.55 L429.58 204.21 L429.62 204.87 L429.67 205.53 L429.72 206.19 L429.76 206.85 L429.81 207.51 L429.86 208.17 L429.90 208.83 L429.95 209.49 L430.00 210.15 L430.05 210.81 L430.09 211.47 L430.14 212.13 L430.19 212.79 L430.24 213.45 L430.29 214.11 L430.34 214.77 L430.38 215.43 L430.43 216.09 L430.48 216.75 L430.53 217.41 L430.58 218.07 L430.63 218.73 L430.68 219.39 L430.73 220.05 L430.78 220.71 L430.83 221.37 L430.88 222.02 L430.93 222.68 L430.98 223.34 L431.03 224.00 L431.08 224.66 L431.13 225.32 L431.18 225.98 L431.23 226.64 L431.29 227.30 L431.34 227.96 L431.39 228.62 L431.44 229.28 L431.49 229.94 L431.55 230.60 L431.60 231.26 L431.65 231.92 L431.70 232.58 L431.76 233.23 L431.81 233.89 L431.86 234.55 L431.92 235.21 L431.97 235.87 L432.02 236.53 L432.08 237.19 L432.13 237.85 L432.19 238.51 L432.24 239.17 L432.29 239.83 L432.35 240.49 L432.40 241.15 L432.46 241.80 L432.52 242.46 L432.57 243.12 L432.63 243.78 L432.68 244.44 L432.74 245.10 L432.80 245.76 L432.85 246.42 L432.91 247.08 L432.97 247.73 L433.02 248.39 L433.08 249.05 L433.14 249.71 L433.20 250.37 L433.25 251.03 L433.31 251.69 L433.37 252.35 L433.43 253.01 L433.49 253.66 L433.55 254.32 L433.60 254.98 L433.66 255.64 L433.72 256.30 L433.78 256.96 L433.84 257.62 L433.90 258.27 L433.96 258.93 L434.02 259.59 L434.09 260.25 L434.15 260.91 L434.21 261.57 L434.27 262.22 L434.33 262.88 L434.39 263.54 L434.45 264.20 L434.52 264.86 L434.58 265.51 L434.64 266.17 L434.71 266.83 L434.77 267.49 L434.83 268.15 L434.90 268.81 L434.96 269.46 L435.03 270.12 L435.09 270.78 L435.16 271.44 L435.23 272.09 L435.30 272.75 L435.36 273.41 L435.43 274.07 L435.51 274.72 L435.58 275.38 L435.65 276.04 L435.72 276.69 L435.80 277.35 L435.87 278.01 L435.95 278.66 L436.03 279.32 L436.11 279.97 L436.19 280.63 L436.27 281.29 L436.36 281.94 L436.44 282.60 L436.53 283.25 L436.62 283.91 L436.71 284.56 L436.80 285.21 L436.90 285.87 L436.99 286.52 L437.09 287.18 L437.19 287.83 L437.29 288.48 L437.39 289.13 L437.50 289.79 L437.61 290.44 L437.72 291.09 L437.83 291.74 L437.94 292.39 L438.06 293.05 L438.18 293.70 L438.30 294.35 L438.42 295.00 L438.55 295.65 L438.68 296.30 L438.81 296.95 L438.94 297.59 L439.08 298.24 L439.22 298.89 L439.36 299.54 L439.50 300.18 L439.64 300.83 L439.79 301.48 L439.94 302.12 L440.09 302.77 L440.25 303.41 L440.40 304.06 L440.56 304.70 L440.72 305.34 L440.88 305.98 L441.05 306.62 L441.21 307.27 L441.38 307.91 L441.55 308.54 L441.73 309.18 L441.90 309.82 L442.08 310.46 L442.26 311.09 L442.44 311.73 L442.62 312.37 L442.81 313.00 L442.99 313.63 L443.18 314.26 L443.37 314.90 L443.56 315.53 L443.76 316.15 L443.97 316.78 L444.18 317.40 L444.40 318.01 L444.64 318.61 L444.90 319.21 L445.18 319.79 L445.48 320.36 L445.80 320.92 L446.15 321.46 L446.54 321.98 L446.95 322.48 L447.40 322.97 L447.87 323.44 L448.37 323.89 L448.89 324.32 L449.42 324.73 L449.98 325.13 L450.55 325.50 L451.12 325.87 L451.71 326.21 L452.30 326.54 L452.90 326.86 L453.50 327.16 L454.10 327.45 L454.71 327.72 L455.32 327.99 L455.94 328.24 L456.56 328.49 L457.18 328.73 L457.80 328.95 L458.42 329.18 L459.05 329.40 L459.68 329.61 L460.30 329.82 L460.93 330.02 L461.56 330.23 L462.19 330.43 L462.82 330.63 L463.45 330.82 L464.09 331.02 L464.72 331.21 L465.35 331.39 L465.99 331.58 L466.62 331.76 L467.26 331.94 L467.89 332.12 L468.53 332.30 L469.17 332.47 L469.80 332.65 L470.44 332.82 L471.08 332.99 L471.72 333.15 L472.36 333.32 L473.00 333.48 L473.64 333.64 L474.28 333.80 L474.92 333.96 L475.56 334.12 L476.20 334.28 L476.84 334.43 L477.49 334.58 L478.13 334.73 L478.77 334.88 L479.42 335.03 L480.06 335.18 L480.70 335.33 L481.35 335.47 L481.99 335.62 L482.64 335.76 L483.28 335.91 L483.93 336.05 L484.57 336.19 L485.22 336.33 L485.87 336.47 L486.51 336.61 L487.16 336.75 L487.80 336.89 L488.45 337.03 L489.10 337.16 L489.74 337.30 L490.39 337.44 L491.04 337.58 L491.68 337.71 L492.33 337.85 L492.98 337.99 L493.63 338.13 L494.27 338.26 L494.92 338.40 L495.57 338.54 L496.21 338.68 L496.86 338.82 L497.51 338.96 L498.15 339.09 L498.80 339.23 L499.45 339.38 L500.09 339.52 L500.74 339.66 L501.39 339.80 L502.03 339.94 L502.68 340.09 L503.32 340.23 L503.97 340.38 L504.61 340.53 L505.26 340.67 L505.90 340.82 L506.55 340.97 L507.19 341.12 L507.84 341.27 L508.48 341.43 L509.13 341.58 L509.77 341.73 L510.41 341.89 L511.06 342.04 L511.70 342.20 L512.34 342.36 L512.99 342.52 L513.63 342.68 L514.27 342.84 L514.91 343.00 L515.55 343.16 L516.19 343.33 L516.84 343.49 L517.48 343.66 L518.12 343.82 L518.76 343.99 L519.40 344.16 L520.04 344.33 L520.68 344.50 L521.32 344.67 L521.95 344.84 L522.59 345.02 L523.23 345.19 L523.87 345.37 L524.51 345.54 L525.14 345.72 L525.78 345.90 L526.42 346.08 L527.05 346.26 L527.69 346.45 L528.32 346.63 L528.96 346.81 L529.60 347.00 L530.23 347.19 L530.86 347.37 L531.50 347.56 L532.13 347.75 L532.76 347.94 L533.40 348.14 L534.03 348.33 L534.66 348.52 L535.29 348.72 L535.92 348.92 L536.56 349.11 L537.19 349.31 L537.82 349.51 L538.45 349.72 L539.08 349.92 L539.70 350.12 L540.33 350.33 L540.96 350.53 L541.59 350.74 L542.22 350.95 L542.84 351.16 L543.47 351.37 L544.10 351.58 L544.72 351.79 L545.35 352.01 L545.97 352.22 L546.60 352.44 L547.22 352.66 L547.85 352.87 L548.47 353.09 L549.09 353.31 L549.72 353.53 L550.34 353.75 L550.96 353.97 L551.59 354.20 L552.21 354.42 L552.83 354.64 L553.45 354.87 L554.07 355.09 L554.70 355.32 L555.32 355.54 L555.94 355.77 L556.56 356.00 L557.18 356.22 L557.80 356.45 L558.42 356.68 L559.04 356.91 L559.66 357.14 L560.28 357.37 L560.90 357.60 L561.52 357.83 L562.14 358.06 L562.76 358.29 L563.38 358.52 L564.00 358.75 L564.62 358.99 L565.24 359.22 L565.86 359.45 L566.48 359.68 L567.10 359.91 L567.72 360.15 L568.34 360.38 L568.96 360.61 L569.58 360.84 L570.20 361.08 L570.82 361.31 L571.43 361.55 L572.05 361.78 L572.67 362.02 L573.29 362.25 L573.91 362.49 L574.52 362.73 L575.14 362.97 L575.76 363.21 L576.37 363.45 L576.99 363.69 L577.60 363.94 L578.22 364.18 L578.83 364.43 L579.44 364.68 L580.05 364.93 L580.66 365.19 L581.27 365.44 L581.88 365.70 L582.49 365.96 L583.10 366.22 L583.71 366.48 L584.31 366.75 L584.92 367.02 L585.52 367.29 L586.12 367.56 L586.72 367.84 L587.32 368.12 L587.92 368.40 L588.52 368.68 L589.12 368.97 L589.71 369.26 L590.31 369.56 L590.90 369.86 L591.49 370.16 L592.08 370.46 L592.67 370.77 L593.25 371.08 L593.84 371.39 L594.42 371.71 L595.01 372.02 L595.59 372.33 L596.18 372.65 L596.76 372.96 L597.35 373.28 L597.93 373.59 L598.52 373.90 L599.11 374.21 L599.69 374.52 L600.28 374.82 L600.87 375.12 L601.46 375.42 L602.05 375.71 L602.65 376.00 L603.24 376.28 L603.84 376.56 L604.44 376.83 L605.05 377.10 L605.65 377.36 L606.26 377.61 L606.87 377.85 L607.49 378.08 L608.10 378.31 L608.72 378.53 L609.35 378.74 L609.97 378.94 L610.60 379.14 L611.23 379.33 L611.87 379.51 L612.50 379.68 L613.14 379.85 L613.78 380.02 L614.43 380.18 L615.07 380.33 L615.72 380.48 L616.36 380.62 L617.01 380.76 L617.66 380.89 L618.32 381.02 L618.97 381.15 L619.62 381.27 L620.28 381.39 L620.93 381.50 L621.59 381.62 L622.24 381.73 L622.90 381.84 L623.56 381.94 L624.21 382.05 L624.87 382.15 L625.53 382.26 L626.18 382.36 L626.84 382.46 L627.49 382.56 L628.15 382.66 L628.80 382.77 L629.45 382.87 L630.10 382.97 L630.75 383.08 L631.40 383.18 L632.05 383.29 L632.70 383.40 L633.34 383.51 L633.98 383.62 L633.98 383.62" fill="none" stroke="#FF0000" stroke-width="2.0" stroke-linejoin="round" stroke-linecap="butt"/>
<line x1="601.9" y1="371.2" x2="601.9" y2="376.8" stroke="#FF0000" stroke-width="1.8"/>
<line x1="620.9" y1="379.6" x2="620.9" y2="383.2" stroke="#FF0000" stroke-width="1.8"/>
<line x1="71" y1="6.60" x2="672.60" y2="6.60" stroke="#404040" stroke-width="1.4"/>
<line x1="671.90" y1="5.90" x2="671.90" y2="389.8" stroke="#6a6a6a" stroke-width="1.4"/>
<line x1="71" y1="384.00" x2="671.90" y2="384.00" stroke="#6a6a6a" stroke-width="1.4"/>
<line x1="77.50" y1="5.90" x2="77.50" y2="389.8" stroke="#404040" stroke-width="1.4"/>
<line x1="73" y1="346.26" x2="77.50" y2="346.26" stroke="#404040" stroke-width="1.4"/>
<line x1="73" y1="308.52" x2="77.50" y2="308.52" stroke="#404040" stroke-width="1.4"/>
<line x1="73" y1="270.78" x2="77.50" y2="270.78" stroke="#404040" stroke-width="1.4"/>
<line x1="73" y1="233.04" x2="77.50" y2="233.04" stroke="#404040" stroke-width="1.4"/>
<line x1="71" y1="195.30" x2="77.50" y2="195.30" stroke="#404040" stroke-width="1.4"/>
<line x1="73" y1="157.56" x2="77.50" y2="157.56" stroke="#404040" stroke-width="1.4"/>
<line x1="73" y1="119.82" x2="77.50" y2="119.82" stroke="#404040" stroke-width="1.4"/>
<line x1="73" y1="82.08" x2="77.50" y2="82.08" stroke="#404040" stroke-width="1.4"/>
<line x1="73" y1="44.34" x2="77.50" y2="44.34" stroke="#404040" stroke-width="1.4"/>
<line x1="127.03" y1="384.00" x2="127.03" y2="388.3" stroke="#6a6a6a" stroke-width="1.4"/>
<line x1="176.57" y1="384.00" x2="176.57" y2="388.3" stroke="#6a6a6a" stroke-width="1.4"/>
<line x1="226.10" y1="384.00" x2="226.10" y2="389.8" stroke="#404040" stroke-width="1.4"/>
<line x1="275.63" y1="384.00" x2="275.63" y2="388.3" stroke="#6a6a6a" stroke-width="1.4"/>
<line x1="325.17" y1="384.00" x2="325.17" y2="388.3" stroke="#6a6a6a" stroke-width="1.4"/>
<line x1="374.70" y1="384.00" x2="374.70" y2="389.8" stroke="#404040" stroke-width="1.4"/>
<line x1="424.23" y1="384.00" x2="424.23" y2="388.3" stroke="#6a6a6a" stroke-width="1.4"/>
<line x1="473.77" y1="384.00" x2="473.77" y2="388.3" stroke="#6a6a6a" stroke-width="1.4"/>
<line x1="523.30" y1="384.00" x2="523.30" y2="389.8" stroke="#404040" stroke-width="1.4"/>
<line x1="572.83" y1="384.00" x2="572.83" y2="388.3" stroke="#6a6a6a" stroke-width="1.4"/>
<line x1="622.37" y1="384.00" x2="622.37" y2="388.3" stroke="#6a6a6a" stroke-width="1.4"/>
<text x="17.24" y="12.75" font-size="17.8" textLength="42.11" lengthAdjust="spacingAndGlyphs" fill="#1a1a1a" stroke="#1a1a1a" stroke-width="0.3">100%</text>
<text x="26.83" y="201.35" font-size="17.8" textLength="33.12" lengthAdjust="spacingAndGlyphs" fill="#1a1a1a" stroke="#1a1a1a" stroke-width="0.3">50%</text>
<text x="36.46" y="390.10" font-size="17.8" textLength="22.74" lengthAdjust="spacingAndGlyphs" fill="#1a1a1a" stroke="#1a1a1a" stroke-width="0.3">0%</text>
<text x="71.84" y="414.75" font-size="17.8" textLength="11.08" lengthAdjust="spacingAndGlyphs" fill="#1a1a1a" stroke="#1a1a1a" stroke-width="0.3">0</text>
<text x="211.37" y="414.75" font-size="17.8" textLength="29.30" lengthAdjust="spacingAndGlyphs" fill="#1a1a1a" stroke="#1a1a1a" stroke-width="0.3">150</text>
<text x="360.21" y="414.75" font-size="17.8" textLength="28.94" lengthAdjust="spacingAndGlyphs" fill="#1a1a1a" stroke="#1a1a1a" stroke-width="0.3">300</text>
<text x="508.66" y="414.75" font-size="17.8" textLength="29.00" lengthAdjust="spacingAndGlyphs" fill="#1a1a1a" stroke="#1a1a1a" stroke-width="0.3">450</text>
<text x="656.86" y="414.75" font-size="17.8" textLength="29.41" lengthAdjust="spacingAndGlyphs" fill="#1a1a1a" stroke="#1a1a1a" stroke-width="0.3">600</text>
<text x="303.03" y="442.45" font-size="17.5" textLength="142.57" lengthAdjust="spacingAndGlyphs" fill="#1a1a1a" stroke="#1a1a1a" stroke-width="0.3">Temperature / °C</text>
<text transform="translate(14.90 302.50) rotate(-90)" x="-1.20" y="0" font-size="17.5" textLength="216.01" lengthAdjust="spacingAndGlyphs" fill="#1a1a1a" stroke="#1a1a1a" stroke-width="0.3">Remaining Sample Mass / %</text>
<text x="467.40" y="51.50" font-size="13.9" textLength="179.07" lengthAdjust="spacingAndGlyphs" fill="#1a1a1a" stroke="#1a1a1a" stroke-width="0.25">50% TMG, Water Antisolvent</text>
<text x="467.40" y="75.67" font-size="13.9" textLength="179.07" lengthAdjust="spacingAndGlyphs" fill="#1a1a1a" stroke="#1a1a1a" stroke-width="0.25">60% TMG, Water Antisolvent</text>
<text x="467.41" y="99.84" font-size="13.9" textLength="173.01" lengthAdjust="spacingAndGlyphs" fill="#1a1a1a" stroke="#1a1a1a" stroke-width="0.25">50% TMG, PrOH Antisolvent</text>
<text x="467.41" y="124.00" font-size="13.9" textLength="173.01" lengthAdjust="spacingAndGlyphs" fill="#1a1a1a" stroke="#1a1a1a" stroke-width="0.25">60% TMG, PrOH Antisolvent</text>
<text x="466.93" y="148.10" font-size="13.9" textLength="96.30" lengthAdjust="spacingAndGlyphs" fill="#1a1a1a" stroke="#1a1a1a" stroke-width="0.25">Reference MCC</text>
<line x1="446.2" y1="46.85" x2="466" y2="46.85" stroke="#00B050" stroke-width="2"/>
<line x1="446.2" y1="71.02" x2="466" y2="71.02" stroke="#ED7D31" stroke-width="2"/>
<line x1="446.2" y1="95.19" x2="466" y2="95.19" stroke="#7030A0" stroke-width="2"/>
<line x1="446.2" y1="119.36" x2="466" y2="119.36" stroke="#002060" stroke-width="2"/>
<line x1="446.2" y1="143.53" x2="466" y2="143.53" stroke="#FF0000" stroke-width="2"/>
</svg>
</body></html>
